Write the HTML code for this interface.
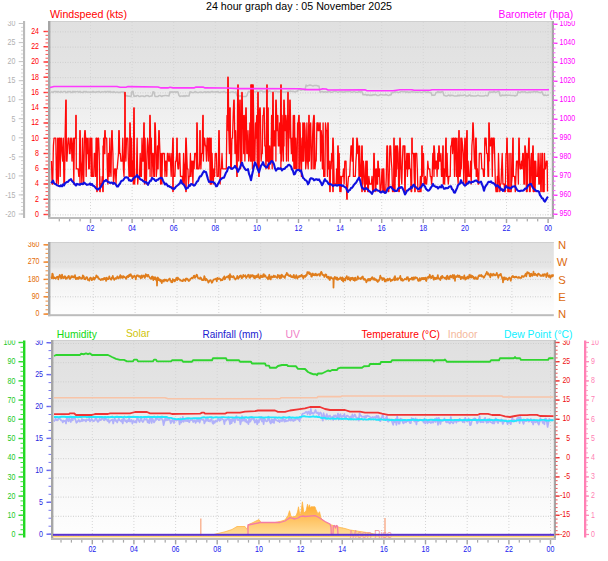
<!DOCTYPE html>
<html><head><meta charset="utf-8"><title>24 hour graph</title>
<style>html,body{margin:0;padding:0;background:#fff}svg{display:block;font-family:"Liberation Sans",sans-serif}</style></head>
<body><svg width="608" height="561" viewBox="0 0 608 561" font-family="&quot;Liberation Sans&quot;, sans-serif">
<defs>
<linearGradient id="gt" x1="0" y1="0" x2="0" y2="1"><stop offset="0" stop-color="#e0e0e0"/><stop offset="0.33" stop-color="#e5e5e5"/><stop offset="0.37" stop-color="#ececec"/><stop offset="0.62" stop-color="#f5f5f5"/><stop offset="0.8" stop-color="#fafafa"/><stop offset="1" stop-color="#fefefe"/></linearGradient>
<linearGradient id="gs" x1="0" y1="0" x2="0" y2="1"><stop offset="0" stop-color="#ffa624"/><stop offset="1" stop-color="#ffdc98"/></linearGradient>
<clipPath id="ct"><rect x="0" y="21" width="608" height="540"/></clipPath>
<clipPath id="cm"><rect x="0" y="242" width="608" height="300"/></clipPath>
<clipPath id="cb"><rect x="0" y="340.5" width="608" height="300"/></clipPath>
</defs>
<rect width="608" height="561" fill="#fff"/>
<rect x="48" y="21" width="506" height="198" fill="url(#gt)"/>
<rect x="48" y="21" width="506" height="1" fill="#cfcfcf"/>
<line x1="50" x2="552" y1="214.9" y2="214.9" stroke="#cecece" stroke-width="1" stroke-dasharray="1,1.5"/>
<line x1="50" x2="552" y1="199.7" y2="199.7" stroke="#cecece" stroke-width="1" stroke-dasharray="1,1.5"/>
<line x1="50" x2="552" y1="184.4" y2="184.4" stroke="#cecece" stroke-width="1" stroke-dasharray="1,1.5"/>
<line x1="50" x2="552" y1="169.2" y2="169.2" stroke="#cecece" stroke-width="1" stroke-dasharray="1,1.5"/>
<line x1="50" x2="552" y1="153.9" y2="153.9" stroke="#cecece" stroke-width="1" stroke-dasharray="1,1.5"/>
<line x1="50" x2="552" y1="138.7" y2="138.7" stroke="#cecece" stroke-width="1" stroke-dasharray="1,1.5"/>
<line x1="50" x2="552" y1="123.4" y2="123.4" stroke="#cecece" stroke-width="1" stroke-dasharray="1,1.5"/>
<line x1="50" x2="552" y1="108.2" y2="108.2" stroke="#cecece" stroke-width="1" stroke-dasharray="1,1.5"/>
<line x1="50" x2="552" y1="92.9" y2="92.9" stroke="#cecece" stroke-width="1" stroke-dasharray="1,1.5"/>
<line x1="50" x2="552" y1="77.7" y2="77.7" stroke="#cecece" stroke-width="1" stroke-dasharray="1,1.5"/>
<line x1="50" x2="552" y1="62.4" y2="62.4" stroke="#cecece" stroke-width="1" stroke-dasharray="1,1.5"/>
<line x1="50" x2="552" y1="47.1" y2="47.1" stroke="#cecece" stroke-width="1" stroke-dasharray="1,1.5"/>
<line x1="50" x2="552" y1="31.9" y2="31.9" stroke="#cecece" stroke-width="1" stroke-dasharray="1,1.5"/>
<line x1="90.5" x2="90.5" y1="22" y2="217" stroke="#d6d6d6" stroke-width="1" stroke-dasharray="1,2"/>
<line x1="132.1" x2="132.1" y1="22" y2="217" stroke="#d6d6d6" stroke-width="1" stroke-dasharray="1,2"/>
<line x1="173.7" x2="173.7" y1="22" y2="217" stroke="#d6d6d6" stroke-width="1" stroke-dasharray="1,2"/>
<line x1="215.3" x2="215.3" y1="22" y2="217" stroke="#d6d6d6" stroke-width="1" stroke-dasharray="1,2"/>
<line x1="256.9" x2="256.9" y1="22" y2="217" stroke="#d6d6d6" stroke-width="1" stroke-dasharray="1,2"/>
<line x1="298.5" x2="298.5" y1="22" y2="217" stroke="#d6d6d6" stroke-width="1" stroke-dasharray="1,2"/>
<line x1="340.1" x2="340.1" y1="22" y2="217" stroke="#d6d6d6" stroke-width="1" stroke-dasharray="1,2"/>
<line x1="381.7" x2="381.7" y1="22" y2="217" stroke="#d6d6d6" stroke-width="1" stroke-dasharray="1,2"/>
<line x1="423.3" x2="423.3" y1="22" y2="217" stroke="#d6d6d6" stroke-width="1" stroke-dasharray="1,2"/>
<line x1="464.9" x2="464.9" y1="22" y2="217" stroke="#d6d6d6" stroke-width="1" stroke-dasharray="1,2"/>
<line x1="506.5" x2="506.5" y1="22" y2="217" stroke="#d6d6d6" stroke-width="1" stroke-dasharray="1,2"/>
<line x1="548.1" x2="548.1" y1="22" y2="217" stroke="#d6d6d6" stroke-width="1" stroke-dasharray="1,2"/>
<rect x="48" y="21" width="2.4" height="198" fill="#a6a6a6"/>
<rect x="551.8" y="21" width="2.2" height="198" fill="#a6a6a6"/>
<rect x="48" y="217.0" width="506" height="2.0" fill="#bcbcbc"/>
<polyline points="51.0,91.9 52.0,91.9 53.0,92.4 54.0,91.6 55.0,91.4 56.0,91.4 57.0,92.3 58.0,91.4 59.0,91.9 60.0,92.3 61.0,91.4 62.0,92.3 63.0,91.9 64.0,91.4 65.0,91.4 66.0,92.4 67.0,92.4 68.0,91.4 69.0,91.9 70.0,91.4 71.0,92.3 72.0,92.4 73.0,91.4 74.0,92.3 75.0,91.4 76.0,91.9 77.0,91.6 78.0,91.6 79.0,92.3 80.0,91.4 81.0,92.3 82.0,92.3 83.0,92.4 84.0,91.4 85.0,91.9 86.0,91.4 87.0,92.3 88.0,91.9 89.0,91.9 90.0,92.4 91.0,91.9 92.0,92.3 93.0,91.4 94.0,92.3 95.0,91.9 96.0,92.3 97.0,91.6 98.0,91.9 99.0,91.4 100.0,92.3 101.0,92.3 102.0,91.6 103.0,91.9 104.0,91.9 105.0,91.4 106.0,92.3 107.0,91.6 108.0,91.4 109.0,92.3 110.0,91.4 111.0,92.3 112.0,91.9 113.0,92.4 114.0,91.6 115.0,92.3 116.0,92.4 117.0,91.9 118.0,92.4 119.0,92.3 120.0,92.4 121.0,91.9 122.0,91.9 123.0,91.9 124.0,91.9 125.0,95.7 126.0,96.0 127.0,95.5 128.0,96.4 129.0,96.0 130.0,96.4 131.0,96.5 132.0,91.5 133.0,91.2 134.0,96.5 135.0,96.0 136.0,96.4 137.0,95.5 138.0,95.5 139.0,96.4 140.0,96.5 141.0,96.0 142.0,96.0 143.0,96.0 144.0,96.5 145.0,96.5 146.0,95.5 147.0,95.7 148.0,95.5 149.0,96.4 150.0,96.4 151.0,96.0 152.0,96.0 153.0,91.7 154.0,92.0 155.0,96.4 156.0,96.5 157.0,96.4 158.0,96.5 159.0,95.5 160.0,95.5 161.0,96.0 162.0,96.5 163.0,95.7 164.0,95.7 165.0,95.5 166.0,95.5 167.0,95.7 168.0,95.7 169.0,96.0 170.0,91.7 171.0,92.4 172.0,91.7 173.0,92.5 174.0,92.0 175.0,91.7 176.0,92.5 177.0,91.7 178.0,92.0 179.0,95.5 180.0,96.5 181.0,96.0 182.0,96.0 183.0,96.4 184.0,95.5 185.0,96.5 186.0,95.5 187.0,96.0 188.0,96.0 189.0,96.0 190.0,91.7 191.0,92.0 192.0,92.5 193.0,92.5 194.0,92.5 195.0,91.5 196.0,92.0 197.0,92.5 198.0,92.5 199.0,92.4 200.0,92.0 201.0,92.0 202.0,92.5 203.0,92.4 204.0,92.0 205.0,91.7 206.0,92.5 207.0,92.0 208.0,91.7 209.0,92.5 210.0,92.0 211.0,92.0 212.0,91.5 213.0,92.0 214.0,92.0 215.0,92.0 216.0,91.7 217.0,92.0 218.0,91.5 219.0,92.5 220.0,92.4 221.0,92.0 222.0,92.0 223.0,92.0 224.0,91.5 225.0,92.0 226.0,92.5 227.0,92.4 228.0,92.0 229.0,92.4 230.0,92.4 231.0,92.0 232.0,92.0 233.0,91.7 234.0,92.4 235.0,92.4 236.0,91.7 237.0,95.7 238.0,95.7 239.0,95.5 240.0,96.5 241.0,95.7 242.0,96.4 243.0,96.5 244.0,96.5 245.0,96.5 246.0,96.5 247.0,95.5 248.0,92.1 249.0,91.3 250.0,92.1 251.0,91.1 252.0,91.6 253.0,91.1 254.0,91.6 255.0,92.1 256.0,91.6 257.0,91.1 258.0,91.6 259.0,92.0 260.0,91.1 261.0,91.1 262.0,91.1 263.0,92.0 264.0,91.6 265.0,92.0 266.0,91.1 267.0,91.6 268.0,92.0 269.0,91.1 270.0,91.1 271.0,91.6 272.0,92.0 273.0,92.1 274.0,91.6 275.0,91.3 276.0,91.6 277.0,91.6 278.0,92.0 279.0,91.6 280.0,92.1 281.0,91.1 282.0,91.1 283.0,92.1 284.0,92.1 285.0,92.1 286.0,92.1 287.0,91.6 288.0,91.1 289.0,91.6 290.0,91.1 291.0,91.3 292.0,91.6 293.0,91.3 294.0,91.6 295.0,92.1 296.0,91.3 297.0,91.6 298.0,90.2 299.0,89.3 300.0,89.8 301.0,90.2 302.0,89.8 303.0,89.8 304.0,89.5 305.0,90.2 306.0,85.1 307.0,86.0 308.0,85.6 309.0,85.3 310.0,85.1 311.0,85.3 312.0,85.6 313.0,86.0 314.0,85.6 315.0,85.6 316.0,85.6 317.0,85.6 318.0,86.0 319.0,86.0 320.0,92.2 321.0,91.8 322.0,91.5 323.0,91.8 324.0,92.2 325.0,91.8 326.0,91.8 327.0,92.3 328.0,91.5 329.0,91.8 330.0,91.8 331.0,92.2 332.0,92.3 333.0,91.8 334.0,91.5 335.0,91.3 336.0,91.3 337.0,91.8 338.0,92.3 339.0,91.8 340.0,91.8 341.0,91.5 342.0,92.2 343.0,91.8 344.0,92.3 345.0,91.5 346.0,91.8 347.0,91.8 348.0,91.3 349.0,91.8 350.0,91.3 351.0,91.8 352.0,92.3 353.0,91.8 354.0,91.8 355.0,91.8 356.0,92.3 357.0,92.2 358.0,92.2 359.0,91.3 360.0,92.3 361.0,91.5 362.0,91.8 363.0,94.7 364.0,94.5 365.0,94.7 366.0,94.5 367.0,95.5 368.0,94.7 369.0,95.0 370.0,95.5 371.0,95.0 372.0,95.5 373.0,94.7 374.0,95.0 375.0,94.5 376.0,94.7 377.0,95.5 378.0,95.5 379.0,95.5 380.0,94.7 381.0,94.5 382.0,94.7 383.0,95.0 384.0,95.0 385.0,95.0 386.0,94.5 387.0,95.0 388.0,95.4 389.0,95.5 390.0,94.7 391.0,95.0 392.0,92.4 393.0,92.4 394.0,92.5 395.0,91.7 396.0,92.0 397.0,92.0 398.0,92.4 399.0,92.4 400.0,92.0 401.0,91.5 402.0,91.5 403.0,91.7 404.0,91.7 405.0,91.5 406.0,92.4 407.0,91.7 408.0,92.0 409.0,92.5 410.0,92.0 411.0,92.0 412.0,91.5 413.0,92.0 414.0,92.0 415.0,92.0 416.0,92.4 417.0,92.0 418.0,92.4 419.0,92.0 420.0,92.0 421.0,92.4 422.0,92.5 423.0,92.0 424.0,91.5 425.0,91.7 426.0,92.0 427.0,92.5 428.0,91.7 429.0,92.4 430.0,92.4 431.0,92.5 432.0,95.4 433.0,95.0 434.0,95.4 435.0,95.0 436.0,92.4 437.0,92.4 438.0,91.5 439.0,92.5 440.0,92.0 441.0,92.4 442.0,91.5 443.0,92.0 444.0,95.6 445.0,95.6 446.0,96.1 447.0,96.0 448.0,95.3 449.0,95.1 450.0,96.0 451.0,95.1 452.0,95.6 453.0,95.3 454.0,96.0 455.0,96.0 456.0,96.0 457.0,96.1 458.0,95.1 459.0,96.0 460.0,95.1 461.0,95.6 462.0,95.6 463.0,95.6 464.0,95.1 465.0,95.1 466.0,96.0 467.0,96.1 468.0,96.0 469.0,95.1 470.0,95.1 471.0,96.1 472.0,95.6 473.0,96.0 474.0,96.0 475.0,96.0 476.0,96.0 477.0,95.6 478.0,95.3 479.0,95.6 480.0,96.1 481.0,96.0 482.0,96.0 483.0,96.1 484.0,96.0 485.0,95.6 486.0,95.3 487.0,96.0 488.0,95.6 489.0,92.2 490.0,91.8 491.0,92.3 492.0,91.8 493.0,92.3 494.0,91.3 495.0,92.3 496.0,92.3 497.0,91.8 498.0,91.3 499.0,91.5 500.0,95.5 501.0,96.0 502.0,95.0 503.0,95.5 504.0,95.2 505.0,95.5 506.0,95.0 507.0,95.5 508.0,95.2 509.0,95.2 510.0,95.2 511.0,95.5 512.0,95.5 513.0,95.5 514.0,95.5 515.0,96.0 516.0,95.5 517.0,95.2 518.0,91.5 519.0,92.5 520.0,92.5 521.0,92.0 522.0,91.7 523.0,92.0 524.0,92.0 525.0,91.7 526.0,92.5 527.0,92.4 528.0,92.5 529.0,92.0 530.0,92.5 531.0,92.0 532.0,92.0 533.0,92.0 534.0,91.5 535.0,91.7 536.0,92.0 537.0,91.5 538.0,92.0 539.0,92.4 540.0,92.5 541.0,92.5 542.0,91.7 543.0,94.5 544.0,95.5 545.0,95.0 546.0,95.4 547.0,95.4 548.0,95.0 549.0,95.4" fill="none" stroke="#c2c2c2" stroke-width="1.5" stroke-linejoin="round" />
<polyline points="51.5,161.1 52.1,184.0 52.7,184.0 53.4,145.9 54.0,138.2 54.6,138.2 55.2,138.2 55.8,138.2 56.5,184.0 57.1,176.4 57.7,138.2 58.3,184.0 58.9,138.2 59.6,138.2 60.2,176.4 60.8,138.2 61.4,138.2 62.0,153.5 62.7,161.1 63.3,138.2 63.9,184.0 64.5,184.0 65.1,138.2 65.8,100.1 65.8,138.2 66.2,100.1 66.4,161.1 67.0,161.1 67.6,145.9 68.2,138.2 68.9,138.2 69.5,153.5 70.1,153.5 70.7,138.2 71.3,138.2 72.0,161.1 72.6,145.9 73.2,138.2 73.8,184.0 74.4,138.2 75.1,138.2 75.7,138.2 75.8,115.4 76.2,115.4 76.3,168.8 76.9,168.8 77.5,168.8 78.2,168.8 78.8,176.4 79.4,176.4 79.8,130.6 80.0,184.0 80.2,130.6 80.6,161.1 81.3,168.8 81.9,184.0 82.5,138.2 83.1,168.8 83.7,184.0 84.4,138.2 84.8,130.6 85.0,138.2 85.2,130.6 85.6,138.2 86.2,176.4 86.8,138.2 87.5,153.5 88.1,138.2 88.7,168.8 89.3,168.8 89.9,138.2 90.6,138.2 91.2,176.4 91.8,138.2 92.4,176.4 93.0,176.4 93.7,176.4 94.3,153.5 94.9,153.5 95.5,176.4 96.1,138.2 96.8,138.2 96.8,191.6 97.2,191.6 97.4,161.1 98.0,138.2 98.6,138.2 99.2,153.5 99.8,191.6 99.9,176.4 100.2,191.6 100.5,184.0 101.1,184.0 101.7,184.0 102.3,176.4 102.8,191.6 103.0,145.9 103.2,191.6 103.6,138.2 104.2,153.5 104.8,130.6 104.8,153.5 105.2,130.6 105.4,138.2 106.1,138.2 106.7,138.2 107.3,168.8 107.9,184.0 108.5,153.5 109.2,176.4 109.8,138.2 110.4,168.8 111.0,176.4 111.6,138.2 111.8,130.6 112.2,130.6 112.3,138.2 112.9,153.5 113.5,184.0 114.1,176.4 114.7,168.8 115.4,168.8 116.0,184.0 116.6,168.8 117.2,168.8 117.8,161.1 118.5,153.5 118.8,130.6 119.1,145.9 119.2,130.6 119.7,153.5 120.3,153.5 120.9,161.1 121.6,161.1 122.2,161.1 122.8,138.2 123.4,168.8 124.0,176.4 124.7,145.9 124.8,92.5 125.2,92.5 125.3,145.9 125.9,161.1 126.5,138.2 127.1,138.2 127.8,138.2 128.4,161.1 129.0,176.4 129.6,176.4 129.8,123.0 130.2,138.2 130.2,123.0 130.9,176.4 131.5,138.2 132.1,176.4 132.7,161.1 133.3,184.0 133.8,107.8 134.0,138.2 134.2,107.8 134.6,184.0 135.2,176.4 135.8,176.4 136.4,176.4 137.1,138.2 137.7,184.0 138.3,176.4 138.9,176.4 139.5,176.4 140.2,153.5 140.8,176.4 141.4,176.4 142.0,138.2 142.6,161.1 143.3,161.1 143.8,123.0 143.9,153.5 144.2,123.0 144.5,184.0 145.1,138.2 145.7,176.4 146.4,184.0 147.0,153.5 147.6,138.2 148.2,145.9 148.8,168.8 149.5,153.5 149.8,115.4 150.1,176.4 150.2,115.4 150.7,153.5 151.3,138.2 151.9,176.4 152.6,153.5 153.2,153.5 153.8,176.4 154.4,176.4 154.8,123.0 155.0,153.5 155.2,123.0 155.7,138.2 156.3,176.4 156.9,168.8 157.5,145.9 158.1,168.8 158.8,130.6 158.8,138.2 159.2,130.6 159.4,138.2 160.0,153.5 160.6,184.0 161.2,153.5 161.9,184.0 162.5,153.5 163.1,153.5 163.7,153.5 164.3,153.5 165.0,176.4 165.6,161.1 166.2,161.1 166.8,176.4 167.4,153.5 168.1,153.5 168.7,161.1 169.3,161.1 169.9,153.5 170.5,161.1 171.2,176.4 171.8,153.5 172.4,153.5 172.8,138.2 172.8,191.6 173.0,153.5 173.2,191.6 173.2,138.2 173.6,176.4 174.3,176.4 174.9,176.4 175.5,161.1 176.1,161.1 176.7,153.5 176.8,138.2 177.2,138.2 177.4,161.1 178.0,168.8 178.6,168.8 179.2,153.5 179.8,153.5 180.5,176.4 181.1,176.4 181.7,176.4 182.3,176.4 182.9,184.0 183.6,153.5 184.2,184.0 184.8,168.8 185.4,161.1 185.8,138.2 185.8,191.6 186.0,176.4 186.2,191.6 186.2,138.2 186.7,153.5 187.3,168.8 187.9,168.8 188.5,184.0 189.1,176.4 189.8,176.4 190.4,153.5 191.0,176.4 191.6,161.1 192.2,161.1 192.9,184.0 193.5,161.1 194.1,168.8 194.7,153.5 195.3,153.5 196.0,153.5 196.6,168.8 196.8,123.0 197.2,168.8 197.2,123.0 197.8,168.8 198.4,168.8 199.1,168.8 199.7,161.1 199.8,130.6 200.2,130.6 200.3,153.5 200.9,168.8 201.5,153.5 202.2,153.5 202.8,115.4 202.8,145.9 203.2,115.4 203.4,161.1 204.0,138.2 204.6,138.2 205.3,145.9 205.9,145.9 206.5,161.1 207.1,138.2 207.7,138.2 208.4,161.1 209.0,138.2 209.6,138.2 210.2,184.0 210.8,138.2 210.8,184.0 211.2,138.2 211.5,184.0 212.1,153.5 212.7,176.4 213.3,184.0 213.9,168.8 214.6,176.4 215.2,153.5 215.8,153.5 216.4,153.5 217.0,176.4 217.7,176.4 218.3,176.4 218.8,130.6 218.9,153.5 219.2,130.6 219.5,153.5 220.1,184.0 220.8,168.8 221.4,168.8 222.0,153.5 222.6,168.8 223.2,168.8 223.9,168.8 224.5,168.8 225.1,168.8 225.7,168.8 226.3,168.8 227.0,115.4 227.6,115.4 227.8,77.2 228.2,130.6 228.2,77.2 228.8,130.6 229.4,153.5 229.8,107.8 230.1,145.9 230.2,107.8 230.7,168.8 231.3,168.8 231.9,138.2 232.5,138.2 233.2,115.4 233.8,100.1 233.8,115.4 234.2,100.1 234.4,115.4 235.0,153.5 235.6,130.6 236.3,153.5 236.8,176.4 236.9,161.1 237.2,176.4 237.5,115.4 237.8,84.9 238.1,153.5 238.2,84.9 238.7,161.1 239.4,123.0 239.8,100.1 240.0,115.4 240.2,100.1 240.6,168.8 241.2,153.5 241.8,92.5 241.8,161.1 242.2,92.5 242.5,115.4 243.1,115.4 243.7,153.5 244.3,115.4 244.9,161.1 245.6,123.0 245.8,107.8 246.2,123.0 246.2,107.8 246.8,153.5 247.4,153.5 248.0,130.6 248.7,161.1 249.3,153.5 249.9,123.0 250.5,161.1 250.8,84.9 251.1,161.1 251.2,84.9 251.8,84.9 251.8,161.1 252.2,84.9 252.4,168.8 252.8,84.9 253.0,161.1 253.2,84.9 253.6,115.4 254.2,161.1 254.9,161.1 255.5,123.0 256.1,138.2 256.7,115.4 257.3,168.8 257.8,92.5 258.0,123.0 258.2,92.5 258.6,168.8 258.8,176.4 259.2,176.4 259.2,115.4 259.8,107.8 259.8,115.4 260.2,107.8 260.4,115.4 261.1,161.1 261.7,153.5 262.3,153.5 262.9,115.4 263.5,115.4 263.8,107.8 264.2,115.4 264.2,107.8 264.8,145.9 265.4,145.9 266.0,168.8 266.6,115.4 266.8,84.9 267.2,84.9 267.3,161.1 267.8,107.8 267.9,161.1 268.2,107.8 268.5,168.8 269.1,168.8 269.7,145.9 270.4,161.1 271.0,161.1 271.6,115.4 272.2,168.8 272.8,92.5 272.8,161.1 273.2,92.5 273.5,145.9 274.1,130.6 274.7,145.9 275.3,145.9 275.8,100.1 275.9,161.1 276.2,100.1 276.6,115.4 277.2,130.6 277.8,115.4 278.4,145.9 279.0,145.9 279.7,123.0 280.3,153.5 280.8,84.9 280.9,168.8 281.2,84.9 281.5,161.1 282.1,115.4 282.8,145.9 283.4,161.1 283.8,100.1 284.0,145.9 284.2,100.1 284.6,115.4 285.2,130.6 285.9,115.4 286.5,161.1 287.1,123.0 287.7,115.4 287.8,92.5 288.2,92.5 288.3,161.1 289.0,115.4 289.6,115.4 289.8,100.1 290.2,138.2 290.2,100.1 290.8,138.2 291.4,153.5 292.1,138.2 292.7,161.1 293.3,115.4 293.9,168.8 294.5,115.4 295.2,168.8 295.8,138.2 296.4,168.8 297.0,168.8 297.6,123.0 298.3,123.0 298.8,115.4 298.9,168.8 299.2,115.4 299.5,168.8 300.1,123.0 300.7,153.5 301.4,176.4 302.0,138.2 302.6,161.1 302.8,123.0 303.2,161.1 303.2,123.0 303.8,161.1 304.5,123.0 305.1,130.6 305.7,168.8 306.3,161.1 306.9,123.0 307.6,161.1 308.2,168.8 308.8,115.4 308.8,161.1 309.2,115.4 309.4,161.1 310.0,130.6 310.7,123.0 311.3,168.8 311.9,168.8 312.5,138.2 313.1,123.0 313.8,115.4 313.8,168.8 314.2,115.4 314.4,123.0 315.0,168.8 315.6,161.1 316.2,161.1 316.9,123.0 317.5,123.0 317.8,123.0 318.1,130.6 318.2,123.0 318.7,130.6 319.3,130.6 319.8,123.0 320.0,123.0 320.2,123.0 320.6,161.1 321.2,130.6 321.8,138.2 322.4,168.8 323.1,123.0 323.7,176.4 324.3,176.4 324.9,176.4 325.5,123.0 326.2,130.6 326.8,130.6 327.4,176.4 327.8,123.0 328.0,168.8 328.2,123.0 328.6,168.8 329.3,168.8 329.8,191.6 329.9,161.1 330.2,191.6 330.5,168.8 331.1,168.8 331.7,153.5 332.4,161.1 332.8,138.2 332.8,191.6 333.0,153.5 333.2,191.6 333.2,138.2 333.6,153.5 334.2,184.0 334.8,184.0 335.5,184.0 336.1,184.0 336.7,168.8 337.3,184.0 337.8,145.9 337.9,153.5 338.2,145.9 338.6,184.0 339.2,153.5 339.8,191.6 340.4,176.4 341.0,191.6 341.7,176.4 342.3,176.4 342.9,176.4 343.5,168.8 344.1,184.0 344.8,161.1 345.4,161.1 346.0,161.1 346.6,191.6 346.8,199.2 347.2,199.2 347.2,191.6 347.9,184.0 348.5,176.4 349.1,176.4 349.7,176.4 350.3,161.1 351.0,145.9 351.6,145.9 352.2,161.1 352.8,138.2 352.8,145.9 353.2,138.2 353.4,176.4 354.1,176.4 354.7,176.4 355.3,176.4 355.9,161.1 356.5,153.5 356.8,138.2 357.2,153.5 357.2,138.2 357.8,145.9 358.4,145.9 359.0,176.4 359.6,145.9 360.3,176.4 360.9,176.4 361.5,161.1 361.8,145.9 361.8,191.6 362.1,161.1 362.2,191.6 362.2,145.9 362.7,184.0 363.4,161.1 364.0,168.8 364.6,191.6 365.2,191.6 365.8,161.1 366.5,184.0 366.8,161.1 367.1,176.4 367.2,161.1 367.7,191.6 368.3,191.6 368.9,176.4 369.6,184.0 370.2,184.0 370.8,184.0 371.4,184.0 372.0,176.4 372.7,191.6 373.3,191.6 373.8,153.5 373.9,191.6 374.2,153.5 374.5,168.8 375.1,168.8 375.8,191.6 376.4,168.8 377.0,184.0 377.6,184.0 377.8,161.1 378.2,168.8 378.2,161.1 378.9,176.4 379.5,168.8 380.1,191.6 380.7,191.6 381.3,184.0 382.0,168.8 382.6,176.4 382.8,191.6 383.2,191.6 383.2,168.8 383.8,168.8 384.4,191.6 385.1,191.6 385.7,191.6 386.3,176.4 386.9,145.9 387.5,145.9 388.2,191.6 388.8,191.6 389.4,168.8 389.8,145.9 390.0,145.9 390.2,145.9 390.6,145.9 391.3,161.1 391.9,168.8 392.5,191.6 393.1,191.6 393.7,184.0 393.8,138.2 394.2,138.2 394.4,191.6 395.0,191.6 395.6,145.9 396.2,176.4 396.8,145.9 396.8,168.8 397.2,145.9 397.5,145.9 398.1,153.5 398.7,191.6 399.3,191.6 399.8,138.2 399.9,168.8 400.2,138.2 400.6,153.5 401.2,176.4 401.8,184.0 402.4,161.1 403.0,145.9 403.7,145.9 404.3,145.9 404.8,191.6 404.9,145.9 405.2,191.6 405.5,161.1 406.1,168.8 406.8,153.5 407.4,176.4 408.0,153.5 408.6,168.8 409.2,153.5 409.9,168.8 410.5,168.8 411.1,191.6 411.7,191.6 411.8,138.2 412.2,138.2 412.3,153.5 413.0,153.5 413.6,153.5 414.2,176.4 414.8,191.6 414.8,153.5 415.2,191.6 415.4,153.5 416.1,153.5 416.7,153.5 417.3,168.8 417.9,191.6 418.5,191.6 419.2,191.6 419.8,191.6 420.4,176.4 421.0,191.6 421.6,176.4 421.8,145.9 422.2,145.9 422.3,176.4 422.9,168.8 423.5,153.5 424.1,184.0 424.7,184.0 425.4,176.4 426.0,184.0 426.6,184.0 427.2,176.4 427.8,161.1 428.5,168.8 429.1,168.8 429.7,168.8 430.3,176.4 430.9,176.4 431.6,184.0 432.2,176.4 432.8,153.5 433.4,168.8 433.8,145.9 434.0,176.4 434.2,145.9 434.7,153.5 435.3,168.8 435.9,161.1 436.5,161.1 437.1,176.4 437.8,153.5 438.4,168.8 438.8,145.9 439.0,153.5 439.2,145.9 439.6,161.1 440.2,161.1 440.9,153.5 441.5,176.4 442.1,176.4 442.7,153.5 442.8,145.9 443.2,145.9 443.3,184.0 444.0,168.8 444.6,184.0 445.2,168.8 445.8,138.2 445.8,153.5 446.2,138.2 446.4,176.4 447.1,153.5 447.7,176.4 448.3,184.0 448.9,176.4 449.5,176.4 450.2,176.4 450.8,145.9 451.4,145.9 452.0,138.2 452.6,153.5 453.3,138.2 453.9,138.2 454.5,176.4 455.1,138.2 455.7,138.2 456.4,176.4 457.0,138.2 457.6,176.4 458.2,184.0 458.8,130.6 458.8,168.8 459.2,130.6 459.5,176.4 460.1,176.4 460.7,168.8 460.8,138.2 461.2,138.2 461.3,168.8 461.9,138.2 462.6,145.9 463.2,153.5 463.8,184.0 464.4,161.1 464.8,138.2 465.0,161.1 465.2,138.2 465.7,184.0 466.3,153.5 466.8,130.6 466.9,184.0 467.2,130.6 467.5,176.4 468.1,161.1 468.8,176.4 469.4,176.4 470.0,176.4 470.6,161.1 471.2,184.0 471.9,145.9 472.5,138.2 472.8,123.0 473.1,138.2 473.2,123.0 473.7,138.2 474.3,161.1 475.0,168.8 475.6,138.2 475.8,138.2 476.2,176.4 476.2,138.2 476.8,176.4 477.4,168.8 478.1,184.0 478.7,184.0 479.3,153.5 479.9,153.5 480.5,153.5 481.2,153.5 481.8,168.8 482.4,168.8 483.0,168.8 483.6,176.4 484.3,176.4 484.8,138.2 484.9,145.9 485.2,138.2 485.5,138.2 486.1,138.2 486.7,153.5 487.4,153.5 488.0,176.4 488.6,176.4 488.8,123.0 489.2,161.1 489.2,123.0 489.8,145.9 490.5,145.9 491.1,138.2 491.7,138.2 492.3,176.4 492.8,138.2 492.9,153.5 493.2,138.2 493.6,138.2 494.2,138.2 494.8,161.1 495.4,184.0 496.0,191.6 496.7,191.6 497.3,176.4 497.9,191.6 498.5,153.5 499.1,176.4 499.8,191.6 500.4,184.0 501.0,184.0 501.6,168.8 502.2,153.5 502.9,184.0 503.5,184.0 504.1,184.0 504.7,191.6 505.3,191.6 506.0,153.5 506.6,153.5 506.8,138.2 507.2,153.5 507.2,138.2 507.8,191.6 508.4,184.0 508.8,191.6 509.1,153.5 509.2,191.6 509.7,191.6 510.3,191.6 510.8,191.6 510.9,153.5 511.2,191.6 511.5,184.0 512.2,176.4 512.8,138.2 512.8,176.4 513.2,138.2 513.4,176.4 514.0,176.4 514.6,176.4 515.3,191.6 515.9,176.4 516.5,161.1 517.1,161.1 517.7,161.1 518.4,184.0 518.8,138.2 519.0,153.5 519.2,138.2 519.6,161.1 520.2,168.8 520.8,168.8 521.5,161.1 522.1,168.8 522.7,153.5 523.3,153.5 523.9,184.0 524.6,184.0 524.8,145.9 525.2,153.5 525.2,145.9 525.8,153.5 526.4,191.6 526.8,191.6 527.0,153.5 527.2,191.6 527.7,161.1 528.3,153.5 528.8,138.2 528.9,153.5 529.2,138.2 529.5,191.6 529.8,191.6 530.1,184.0 530.2,191.6 530.8,161.1 531.4,153.5 532.0,184.0 532.6,153.5 532.8,145.9 533.2,191.6 533.2,145.9 533.9,191.6 534.5,161.1 535.1,191.6 535.7,161.1 536.3,176.4 537.0,176.4 537.6,176.4 538.2,153.5 538.8,184.0 539.4,184.0 540.1,153.5 540.7,184.0 540.8,191.6 541.2,191.6 541.3,184.0 541.9,153.5 542.5,153.5 542.8,191.6 543.2,168.8 543.2,191.6 543.8,168.8 543.8,191.6 544.2,191.6 544.4,153.5 545.0,168.8 545.6,168.8 546.3,161.1 546.8,161.1 546.9,161.1 547.2,161.1 547.5,191.6" fill="none" stroke="#ff0808" stroke-width="1.3" stroke-linejoin="round" stroke-linejoin="miter"/>
<polyline points="51.0,183.0 52.0,182.2 53.0,180.7 54.0,183.2 55.0,184.0 56.0,184.4 57.0,185.2 58.0,185.6 59.0,186.0 60.0,186.4 61.0,185.3 62.0,186.3 63.0,184.4 64.0,185.4 65.0,183.2 66.0,182.6 67.0,182.0 68.0,181.8 69.0,180.4 70.0,179.8 71.0,179.2 72.0,181.0 73.0,182.0 74.0,183.1 75.0,184.6 76.0,185.6 77.0,183.8 78.0,184.4 79.0,184.2 80.0,184.8 81.0,183.8 82.0,183.9 83.0,184.1 84.0,182.6 85.0,183.4 86.0,184.2 87.0,184.9 88.0,184.5 89.0,184.4 90.0,183.4 91.0,184.9 92.0,184.0 93.0,185.8 94.0,186.0 95.0,187.0 96.0,188.4 97.0,189.0 98.0,189.6 99.0,188.6 100.0,188.0 101.0,186.6 102.0,184.9 103.0,183.2 104.0,181.1 105.0,181.0 106.0,179.9 107.0,181.0 108.0,182.0 109.0,182.2 110.0,182.9 111.0,182.8 112.0,182.6 113.0,183.7 114.0,182.9 115.0,183.6 116.0,184.8 117.0,186.5 118.0,186.5 119.0,184.7 120.0,183.6 121.0,181.4 122.0,180.7 123.0,180.5 124.0,179.0 125.0,177.5 126.0,177.3 127.0,177.4 128.0,177.7 129.0,180.4 130.0,180.1 131.0,181.0 132.0,180.4 133.0,179.0 134.0,178.0 135.0,177.0 136.0,176.8 137.0,175.0 138.0,177.1 139.0,176.9 140.0,179.0 141.0,179.7 142.0,179.9 143.0,181.0 144.0,181.6 145.0,182.6 146.0,182.0 147.0,183.0 148.0,184.8 149.0,182.7 150.0,180.9 151.0,180.8 152.0,177.8 153.0,178.8 154.0,179.0 155.0,180.4 156.0,181.0 157.0,179.8 158.0,179.8 159.0,178.6 160.0,178.2 161.0,177.8 162.0,178.2 163.0,180.6 164.0,182.6 165.0,184.5 166.0,183.5 167.0,184.6 168.0,186.3 169.0,186.0 170.0,186.9 171.0,187.1 172.0,188.4 173.0,188.2 174.0,189.1 175.0,188.1 176.0,186.5 177.0,185.8 178.0,185.0 179.0,184.1 180.0,183.1 181.0,180.2 182.0,183.3 183.0,184.0 184.0,184.9 185.0,186.9 186.0,189.0 187.0,188.0 188.0,187.8 189.0,185.2 190.0,185.8 191.0,184.0 192.0,184.2 193.0,184.9 194.0,185.6 195.0,185.0 196.0,183.3 197.0,181.5 198.0,181.0 199.0,178.2 200.0,176.2 201.0,176.3 202.0,174.4 203.0,172.5 204.0,171.0 205.0,171.9 206.0,172.0 207.0,175.6 208.0,179.1 209.0,181.9 210.0,181.5 211.0,182.0 212.0,181.9 213.0,181.8 214.0,182.7 215.0,183.6 216.0,186.1 217.0,186.1 218.0,183.8 219.0,182.3 220.0,180.0 221.0,179.1 222.0,178.2 223.0,177.7 224.0,177.6 225.0,175.1 226.0,172.6 227.0,171.4 228.0,168.2 229.0,167.0 230.0,167.7 231.0,168.3 232.0,169.0 233.0,168.2 234.0,167.5 235.0,165.9 236.0,167.7 237.0,168.8 238.0,171.8 239.0,169.4 240.0,167.4 241.0,165.0 242.0,162.6 243.0,165.8 244.0,167.4 245.0,169.0 246.0,170.1 247.0,169.7 248.0,169.2 249.0,173.9 250.0,176.3 251.0,180.2 252.0,175.1 253.0,170.8 254.0,166.0 255.0,162.4 256.0,164.5 257.0,167.0 258.0,169.9 259.0,172.4 260.0,169.0 261.0,165.6 262.0,164.5 263.0,162.2 264.0,165.1 265.0,166.3 266.0,167.2 267.0,167.5 268.0,165.3 269.0,163.6 270.0,163.8 271.0,161.6 272.0,161.0 273.0,162.2 274.0,164.2 275.0,168.4 276.0,170.6 277.0,169.2 278.0,168.2 279.0,168.9 280.0,168.4 281.0,168.6 282.0,170.4 283.0,169.1 284.0,169.0 285.0,168.4 286.0,167.0 287.0,166.8 288.0,165.1 289.0,164.7 290.0,165.4 291.0,166.4 292.0,169.4 293.0,170.9 294.0,174.5 295.0,173.8 296.0,171.1 297.0,170.0 298.0,170.1 299.0,169.8 300.0,171.1 301.0,170.4 302.0,174.1 303.0,177.8 304.0,178.5 305.0,180.0 306.0,180.4 307.0,181.5 308.0,184.3 309.0,182.6 310.0,179.2 311.0,178.1 312.0,178.6 313.0,178.7 314.0,180.3 315.0,179.8 316.0,179.2 317.0,179.4 318.0,180.0 319.0,179.4 320.0,181.1 321.0,182.7 322.0,185.2 323.0,183.7 324.0,181.1 325.0,179.2 326.0,181.0 327.0,181.2 328.0,183.0 329.0,184.3 330.0,184.0 331.0,184.3 332.0,184.9 333.0,186.0 334.0,185.3 335.0,185.3 336.0,185.0 337.0,185.8 338.0,185.0 339.0,185.1 340.0,185.3 341.0,185.0 342.0,186.0 343.0,185.3 344.0,186.5 345.0,187.2 346.0,187.6 347.0,190.0 348.0,192.0 349.0,190.2 350.0,189.9 351.0,188.1 352.0,187.8 353.0,186.4 354.0,184.8 355.0,183.6 356.0,182.8 357.0,180.9 358.0,179.4 359.0,177.5 360.0,180.1 361.0,184.6 362.0,187.7 363.0,188.2 364.0,189.5 365.0,188.8 366.0,188.1 367.0,189.0 368.0,189.6 369.0,191.0 370.0,191.6 371.0,192.5 372.0,193.8 373.0,191.4 374.0,190.7 375.0,190.3 376.0,189.2 377.0,190.0 378.0,190.8 379.0,190.7 380.0,191.9 381.0,192.5 382.0,191.8 383.0,191.2 384.0,192.1 385.0,193.0 386.0,192.5 387.0,190.3 388.0,188.2 389.0,188.0 390.0,187.0 391.0,186.8 392.0,188.1 393.0,189.5 394.0,190.0 395.0,190.9 396.0,191.0 397.0,190.9 398.0,188.9 399.0,187.6 400.0,188.0 401.0,187.1 402.0,187.3 403.0,189.2 404.0,191.6 405.0,194.4 406.0,192.9 407.0,190.6 408.0,190.4 409.0,189.0 410.0,189.1 411.0,186.9 412.0,187.8 413.0,185.4 414.0,184.7 415.0,186.8 416.0,187.2 417.0,188.2 418.0,189.2 419.0,189.0 420.0,187.6 421.0,187.4 422.0,185.8 423.0,183.9 424.0,185.4 425.0,186.5 426.0,188.8 427.0,189.9 428.0,190.6 429.0,190.5 430.0,189.1 431.0,187.4 432.0,186.2 433.0,183.9 434.0,185.9 435.0,186.2 436.0,187.0 437.0,186.9 438.0,188.5 439.0,187.3 440.0,186.6 441.0,187.3 442.0,185.2 443.0,187.0 444.0,188.8 445.0,188.6 446.0,187.9 447.0,188.3 448.0,188.0 449.0,186.8 450.0,186.4 451.0,186.4 452.0,189.1 453.0,189.8 454.0,192.5 455.0,192.7 456.0,190.2 457.0,188.1 458.0,185.2 459.0,184.3 460.0,183.5 461.0,180.2 462.0,182.8 463.0,183.0 464.0,184.8 465.0,185.7 466.0,185.0 467.0,183.6 468.0,183.4 469.0,181.5 470.0,182.4 471.0,182.6 472.0,181.9 473.0,182.0 474.0,181.3 475.0,180.7 476.0,180.4 477.0,181.0 478.0,182.0 479.0,182.6 480.0,182.2 481.0,181.5 482.0,184.3 483.0,186.8 484.0,190.8 485.0,187.2 486.0,185.6 487.0,184.4 488.0,182.4 489.0,181.7 490.0,182.1 491.0,181.4 492.0,182.8 493.0,183.0 494.0,183.6 495.0,184.6 496.0,186.3 497.0,185.2 498.0,185.7 499.0,187.4 500.0,187.2 501.0,189.8 502.0,189.2 503.0,191.0 504.0,190.1 505.0,188.1 506.0,186.0 507.0,187.3 508.0,187.8 509.0,187.5 510.0,188.4 511.0,188.3 512.0,187.0 513.0,186.5 514.0,186.4 515.0,186.2 516.0,188.0 517.0,189.8 518.0,190.8 519.0,191.0 520.0,191.2 521.0,190.6 522.0,190.8 523.0,190.6 524.0,190.0 525.0,188.6 526.0,188.8 527.0,187.8 528.0,185.8 529.0,184.7 530.0,184.3 531.0,183.9 532.0,186.0 533.0,187.9 534.0,189.0 535.0,189.9 536.0,190.8 537.0,191.3 538.0,191.0 539.0,191.9 540.0,195.1 541.0,196.4 542.0,198.3 543.0,198.6 544.0,200.7 545.0,201.6 546.0,199.7 547.0,197.9 548.0,196.8" fill="none" stroke="#1010e0" stroke-width="2.1" stroke-linejoin="round" />
<polyline points="50.0,87.6 54.0,86.5 117.0,86.5 120.0,87.2 126.0,87.2 128.0,86.6 158.0,87.0 161.0,87.9 168.0,87.9 170.0,87.3 173.0,87.9 194.0,87.9 196.0,87.1 203.0,87.1 205.0,87.9 226.0,88.0 240.0,88.6 300.0,88.8 307.0,89.6 320.0,89.6 322.0,88.9 326.0,89.0 328.0,90.0 365.0,89.8 367.0,90.7 393.0,90.7 400.0,89.8 412.0,89.8 414.0,90.3 430.0,90.2 432.0,89.7 549.0,89.7" fill="none" stroke="#ff38ff" stroke-width="1.6" stroke-linejoin="round" />
<g clip-path="url(#ct)">
<rect x="23" y="21" width="2.1" height="197" fill="#bababa"/>
<rect x="18.7" y="213.5" width="4.5" height="1" fill="#c4c4c4"/>
<text transform="translate(15.3,216.7) scale(0.86,1)" font-size="8.2" fill="#b0b0b0" text-anchor="end">-20</text>
<rect x="18.7" y="194.4" width="4.5" height="1" fill="#c4c4c4"/>
<text transform="translate(15.3,197.6) scale(0.86,1)" font-size="8.2" fill="#b0b0b0" text-anchor="end">-15</text>
<rect x="18.7" y="175.4" width="4.5" height="1" fill="#c4c4c4"/>
<text transform="translate(15.3,178.6) scale(0.86,1)" font-size="8.2" fill="#b0b0b0" text-anchor="end">-10</text>
<rect x="18.7" y="156.3" width="4.5" height="1" fill="#c4c4c4"/>
<text transform="translate(15.3,159.5) scale(0.86,1)" font-size="8.2" fill="#b0b0b0" text-anchor="end">-5</text>
<rect x="18.7" y="137.3" width="4.5" height="1" fill="#c4c4c4"/>
<text transform="translate(15.3,140.5) scale(0.86,1)" font-size="8.2" fill="#b0b0b0" text-anchor="end">0</text>
<rect x="18.7" y="118.2" width="4.5" height="1" fill="#c4c4c4"/>
<text transform="translate(15.3,121.5) scale(0.86,1)" font-size="8.2" fill="#b0b0b0" text-anchor="end">5</text>
<rect x="18.7" y="99.2" width="4.5" height="1" fill="#c4c4c4"/>
<text transform="translate(15.3,102.4) scale(0.86,1)" font-size="8.2" fill="#b0b0b0" text-anchor="end">10</text>
<rect x="18.7" y="80.2" width="4.5" height="1" fill="#c4c4c4"/>
<text transform="translate(15.3,83.4) scale(0.86,1)" font-size="8.2" fill="#b0b0b0" text-anchor="end">15</text>
<rect x="18.7" y="61.1" width="4.5" height="1" fill="#c4c4c4"/>
<text transform="translate(15.3,64.3) scale(0.86,1)" font-size="8.2" fill="#b0b0b0" text-anchor="end">20</text>
<rect x="18.7" y="42.1" width="4.5" height="1" fill="#c4c4c4"/>
<text transform="translate(15.3,45.3) scale(0.86,1)" font-size="8.2" fill="#b0b0b0" text-anchor="end">25</text>
<rect x="18.7" y="23.0" width="4.5" height="1" fill="#c4c4c4"/>
<text transform="translate(15.3,26.2) scale(0.86,1)" font-size="8.2" fill="#b0b0b0" text-anchor="end">30</text>
<rect x="21" y="213.6" width="2" height="0.8" fill="#c8c8c8"/>
<rect x="21" y="209.8" width="2" height="0.8" fill="#c8c8c8"/>
<rect x="21" y="206.0" width="2" height="0.8" fill="#c8c8c8"/>
<rect x="21" y="202.2" width="2" height="0.8" fill="#c8c8c8"/>
<rect x="21" y="198.4" width="2" height="0.8" fill="#c8c8c8"/>
<rect x="21" y="194.5" width="2" height="0.8" fill="#c8c8c8"/>
<rect x="21" y="190.7" width="2" height="0.8" fill="#c8c8c8"/>
<rect x="21" y="186.9" width="2" height="0.8" fill="#c8c8c8"/>
<rect x="21" y="183.1" width="2" height="0.8" fill="#c8c8c8"/>
<rect x="21" y="179.3" width="2" height="0.8" fill="#c8c8c8"/>
<rect x="21" y="175.5" width="2" height="0.8" fill="#c8c8c8"/>
<rect x="21" y="171.7" width="2" height="0.8" fill="#c8c8c8"/>
<rect x="21" y="167.9" width="2" height="0.8" fill="#c8c8c8"/>
<rect x="21" y="164.1" width="2" height="0.8" fill="#c8c8c8"/>
<rect x="21" y="160.3" width="2" height="0.8" fill="#c8c8c8"/>
<rect x="21" y="156.4" width="2" height="0.8" fill="#c8c8c8"/>
<rect x="21" y="152.6" width="2" height="0.8" fill="#c8c8c8"/>
<rect x="21" y="148.8" width="2" height="0.8" fill="#c8c8c8"/>
<rect x="21" y="145.0" width="2" height="0.8" fill="#c8c8c8"/>
<rect x="21" y="141.2" width="2" height="0.8" fill="#c8c8c8"/>
<rect x="21" y="137.4" width="2" height="0.8" fill="#c8c8c8"/>
<rect x="21" y="133.6" width="2" height="0.8" fill="#c8c8c8"/>
<rect x="21" y="129.8" width="2" height="0.8" fill="#c8c8c8"/>
<rect x="21" y="126.0" width="2" height="0.8" fill="#c8c8c8"/>
<rect x="21" y="122.2" width="2" height="0.8" fill="#c8c8c8"/>
<rect x="21" y="118.3" width="2" height="0.8" fill="#c8c8c8"/>
<rect x="21" y="114.5" width="2" height="0.8" fill="#c8c8c8"/>
<rect x="21" y="110.7" width="2" height="0.8" fill="#c8c8c8"/>
<rect x="21" y="106.9" width="2" height="0.8" fill="#c8c8c8"/>
<rect x="21" y="103.1" width="2" height="0.8" fill="#c8c8c8"/>
<rect x="21" y="99.3" width="2" height="0.8" fill="#c8c8c8"/>
<rect x="21" y="95.5" width="2" height="0.8" fill="#c8c8c8"/>
<rect x="21" y="91.7" width="2" height="0.8" fill="#c8c8c8"/>
<rect x="21" y="87.9" width="2" height="0.8" fill="#c8c8c8"/>
<rect x="21" y="84.1" width="2" height="0.8" fill="#c8c8c8"/>
<rect x="21" y="80.2" width="2" height="0.8" fill="#c8c8c8"/>
<rect x="21" y="76.4" width="2" height="0.8" fill="#c8c8c8"/>
<rect x="21" y="72.6" width="2" height="0.8" fill="#c8c8c8"/>
<rect x="21" y="68.8" width="2" height="0.8" fill="#c8c8c8"/>
<rect x="21" y="65.0" width="2" height="0.8" fill="#c8c8c8"/>
<rect x="21" y="61.2" width="2" height="0.8" fill="#c8c8c8"/>
<rect x="21" y="57.4" width="2" height="0.8" fill="#c8c8c8"/>
<rect x="21" y="53.6" width="2" height="0.8" fill="#c8c8c8"/>
<rect x="21" y="49.8" width="2" height="0.8" fill="#c8c8c8"/>
<rect x="21" y="46.0" width="2" height="0.8" fill="#c8c8c8"/>
<rect x="21" y="42.2" width="2" height="0.8" fill="#c8c8c8"/>
<rect x="21" y="38.3" width="2" height="0.8" fill="#c8c8c8"/>
<rect x="21" y="34.5" width="2" height="0.8" fill="#c8c8c8"/>
<rect x="21" y="30.7" width="2" height="0.8" fill="#c8c8c8"/>
<rect x="21" y="26.9" width="2" height="0.8" fill="#c8c8c8"/>
<rect x="21" y="23.1" width="2" height="0.8" fill="#c8c8c8"/>
<rect x="43.5" y="213.8" width="4.5" height="1.4" fill="#ff3030"/>
<text transform="translate(39,216.8) scale(0.86,1)" font-size="8.2" fill="#ff0000" text-anchor="end">0</text>
<rect x="43.5" y="198.6" width="4.5" height="1.4" fill="#ff3030"/>
<text transform="translate(39,201.6) scale(0.86,1)" font-size="8.2" fill="#ff0000" text-anchor="end">2</text>
<rect x="43.5" y="183.3" width="4.5" height="1.4" fill="#ff3030"/>
<text transform="translate(39,186.3) scale(0.86,1)" font-size="8.2" fill="#ff0000" text-anchor="end">4</text>
<rect x="43.5" y="168.1" width="4.5" height="1.4" fill="#ff3030"/>
<text transform="translate(39,171.1) scale(0.86,1)" font-size="8.2" fill="#ff0000" text-anchor="end">6</text>
<rect x="43.5" y="152.8" width="4.5" height="1.4" fill="#ff3030"/>
<text transform="translate(39,155.8) scale(0.86,1)" font-size="8.2" fill="#ff0000" text-anchor="end">8</text>
<rect x="43.5" y="137.6" width="4.5" height="1.4" fill="#ff3030"/>
<text transform="translate(39,140.6) scale(0.86,1)" font-size="8.2" fill="#ff0000" text-anchor="end">10</text>
<rect x="43.5" y="122.3" width="4.5" height="1.4" fill="#ff3030"/>
<text transform="translate(39,125.3) scale(0.86,1)" font-size="8.2" fill="#ff0000" text-anchor="end">12</text>
<rect x="43.5" y="107.0" width="4.5" height="1.4" fill="#ff3030"/>
<text transform="translate(39,110.0) scale(0.86,1)" font-size="8.2" fill="#ff0000" text-anchor="end">14</text>
<rect x="43.5" y="91.8" width="4.5" height="1.4" fill="#ff3030"/>
<text transform="translate(39,94.8) scale(0.86,1)" font-size="8.2" fill="#ff0000" text-anchor="end">16</text>
<rect x="43.5" y="76.5" width="4.5" height="1.4" fill="#ff3030"/>
<text transform="translate(39,79.5) scale(0.86,1)" font-size="8.2" fill="#ff0000" text-anchor="end">18</text>
<rect x="43.5" y="61.3" width="4.5" height="1.4" fill="#ff3030"/>
<text transform="translate(39,64.3) scale(0.86,1)" font-size="8.2" fill="#ff0000" text-anchor="end">20</text>
<rect x="43.5" y="46.0" width="4.5" height="1.4" fill="#ff3030"/>
<text transform="translate(39,49.0) scale(0.86,1)" font-size="8.2" fill="#ff0000" text-anchor="end">22</text>
<rect x="43.5" y="30.8" width="4.5" height="1.4" fill="#ff3030"/>
<text transform="translate(39,33.8) scale(0.86,1)" font-size="8.2" fill="#ff0000" text-anchor="end">24</text>
<rect x="45.5" y="214.0" width="2.5" height="1" fill="#ff5050"/>
<rect x="45.5" y="210.2" width="2.5" height="1" fill="#ff5050"/>
<rect x="45.5" y="206.4" width="2.5" height="1" fill="#ff5050"/>
<rect x="45.5" y="202.6" width="2.5" height="1" fill="#ff5050"/>
<rect x="45.5" y="198.8" width="2.5" height="1" fill="#ff5050"/>
<rect x="45.5" y="194.9" width="2.5" height="1" fill="#ff5050"/>
<rect x="45.5" y="191.1" width="2.5" height="1" fill="#ff5050"/>
<rect x="45.5" y="187.3" width="2.5" height="1" fill="#ff5050"/>
<rect x="45.5" y="183.5" width="2.5" height="1" fill="#ff5050"/>
<rect x="45.5" y="179.7" width="2.5" height="1" fill="#ff5050"/>
<rect x="45.5" y="175.9" width="2.5" height="1" fill="#ff5050"/>
<rect x="45.5" y="172.1" width="2.5" height="1" fill="#ff5050"/>
<rect x="45.5" y="168.2" width="2.5" height="1" fill="#ff5050"/>
<rect x="45.5" y="164.4" width="2.5" height="1" fill="#ff5050"/>
<rect x="45.5" y="160.6" width="2.5" height="1" fill="#ff5050"/>
<rect x="45.5" y="156.8" width="2.5" height="1" fill="#ff5050"/>
<rect x="45.5" y="153.0" width="2.5" height="1" fill="#ff5050"/>
<rect x="45.5" y="149.2" width="2.5" height="1" fill="#ff5050"/>
<rect x="45.5" y="145.4" width="2.5" height="1" fill="#ff5050"/>
<rect x="45.5" y="141.6" width="2.5" height="1" fill="#ff5050"/>
<rect x="45.5" y="137.8" width="2.5" height="1" fill="#ff5050"/>
<rect x="45.5" y="133.9" width="2.5" height="1" fill="#ff5050"/>
<rect x="45.5" y="130.1" width="2.5" height="1" fill="#ff5050"/>
<rect x="45.5" y="126.3" width="2.5" height="1" fill="#ff5050"/>
<rect x="45.5" y="122.5" width="2.5" height="1" fill="#ff5050"/>
<rect x="45.5" y="118.7" width="2.5" height="1" fill="#ff5050"/>
<rect x="45.5" y="114.9" width="2.5" height="1" fill="#ff5050"/>
<rect x="45.5" y="111.1" width="2.5" height="1" fill="#ff5050"/>
<rect x="45.5" y="107.2" width="2.5" height="1" fill="#ff5050"/>
<rect x="45.5" y="103.4" width="2.5" height="1" fill="#ff5050"/>
<rect x="45.5" y="99.6" width="2.5" height="1" fill="#ff5050"/>
<rect x="45.5" y="95.8" width="2.5" height="1" fill="#ff5050"/>
<rect x="45.5" y="92.0" width="2.5" height="1" fill="#ff5050"/>
<rect x="45.5" y="88.2" width="2.5" height="1" fill="#ff5050"/>
<rect x="45.5" y="84.4" width="2.5" height="1" fill="#ff5050"/>
<rect x="45.5" y="80.6" width="2.5" height="1" fill="#ff5050"/>
<rect x="45.5" y="76.8" width="2.5" height="1" fill="#ff5050"/>
<rect x="45.5" y="72.9" width="2.5" height="1" fill="#ff5050"/>
<rect x="45.5" y="69.1" width="2.5" height="1" fill="#ff5050"/>
<rect x="45.5" y="65.3" width="2.5" height="1" fill="#ff5050"/>
<rect x="45.5" y="61.5" width="2.5" height="1" fill="#ff5050"/>
<rect x="45.5" y="57.7" width="2.5" height="1" fill="#ff5050"/>
<rect x="45.5" y="53.9" width="2.5" height="1" fill="#ff5050"/>
<rect x="45.5" y="50.1" width="2.5" height="1" fill="#ff5050"/>
<rect x="45.5" y="46.2" width="2.5" height="1" fill="#ff5050"/>
<rect x="45.5" y="42.4" width="2.5" height="1" fill="#ff5050"/>
<rect x="45.5" y="38.6" width="2.5" height="1" fill="#ff5050"/>
<rect x="45.5" y="34.8" width="2.5" height="1" fill="#ff5050"/>
<rect x="45.5" y="31.0" width="2.5" height="1" fill="#ff5050"/>
<rect x="553" y="213.6" width="4.5" height="1.4" fill="#ff30ff"/>
<text transform="translate(559.5,216.0) scale(0.86,1)" font-size="8.2" fill="#ff00ff">950</text>
<rect x="553" y="194.6" width="4.5" height="1.4" fill="#ff30ff"/>
<text transform="translate(559.5,197.0) scale(0.86,1)" font-size="8.2" fill="#ff00ff">960</text>
<rect x="553" y="175.6" width="4.5" height="1.4" fill="#ff30ff"/>
<text transform="translate(559.5,178.0) scale(0.86,1)" font-size="8.2" fill="#ff00ff">970</text>
<rect x="553" y="156.6" width="4.5" height="1.4" fill="#ff30ff"/>
<text transform="translate(559.5,159.0) scale(0.86,1)" font-size="8.2" fill="#ff00ff">980</text>
<rect x="553" y="137.6" width="4.5" height="1.4" fill="#ff30ff"/>
<text transform="translate(559.5,140.0) scale(0.86,1)" font-size="8.2" fill="#ff00ff">990</text>
<rect x="553" y="118.6" width="4.5" height="1.4" fill="#ff30ff"/>
<text transform="translate(559.5,121.0) scale(0.86,1)" font-size="8.2" fill="#ff00ff">1000</text>
<rect x="553" y="99.6" width="4.5" height="1.4" fill="#ff30ff"/>
<text transform="translate(559.5,102.0) scale(0.86,1)" font-size="8.2" fill="#ff00ff">1010</text>
<rect x="553" y="80.6" width="4.5" height="1.4" fill="#ff30ff"/>
<text transform="translate(559.5,83.0) scale(0.86,1)" font-size="8.2" fill="#ff00ff">1020</text>
<rect x="553" y="61.6" width="4.5" height="1.4" fill="#ff30ff"/>
<text transform="translate(559.5,64.0) scale(0.86,1)" font-size="8.2" fill="#ff00ff">1030</text>
<rect x="553" y="42.6" width="4.5" height="1.4" fill="#ff30ff"/>
<text transform="translate(559.5,45.0) scale(0.86,1)" font-size="8.2" fill="#ff00ff">1040</text>
<rect x="553" y="23.6" width="4.5" height="1.4" fill="#ff30ff"/>
<text transform="translate(559.5,26.0) scale(0.86,1)" font-size="8.2" fill="#ff00ff">1050</text>
<rect x="553" y="213.8" width="2.5" height="1" fill="#ff60ff"/>
<rect x="553" y="209.1" width="2.5" height="1" fill="#ff60ff"/>
<rect x="553" y="204.3" width="2.5" height="1" fill="#ff60ff"/>
<rect x="553" y="199.6" width="2.5" height="1" fill="#ff60ff"/>
<rect x="553" y="194.8" width="2.5" height="1" fill="#ff60ff"/>
<rect x="553" y="190.1" width="2.5" height="1" fill="#ff60ff"/>
<rect x="553" y="185.3" width="2.5" height="1" fill="#ff60ff"/>
<rect x="553" y="180.6" width="2.5" height="1" fill="#ff60ff"/>
<rect x="553" y="175.8" width="2.5" height="1" fill="#ff60ff"/>
<rect x="553" y="171.1" width="2.5" height="1" fill="#ff60ff"/>
<rect x="553" y="166.3" width="2.5" height="1" fill="#ff60ff"/>
<rect x="553" y="161.6" width="2.5" height="1" fill="#ff60ff"/>
<rect x="553" y="156.8" width="2.5" height="1" fill="#ff60ff"/>
<rect x="553" y="152.1" width="2.5" height="1" fill="#ff60ff"/>
<rect x="553" y="147.3" width="2.5" height="1" fill="#ff60ff"/>
<rect x="553" y="142.6" width="2.5" height="1" fill="#ff60ff"/>
<rect x="553" y="137.8" width="2.5" height="1" fill="#ff60ff"/>
<rect x="553" y="133.1" width="2.5" height="1" fill="#ff60ff"/>
<rect x="553" y="128.3" width="2.5" height="1" fill="#ff60ff"/>
<rect x="553" y="123.6" width="2.5" height="1" fill="#ff60ff"/>
<rect x="553" y="118.8" width="2.5" height="1" fill="#ff60ff"/>
<rect x="553" y="114.1" width="2.5" height="1" fill="#ff60ff"/>
<rect x="553" y="109.3" width="2.5" height="1" fill="#ff60ff"/>
<rect x="553" y="104.6" width="2.5" height="1" fill="#ff60ff"/>
<rect x="553" y="99.8" width="2.5" height="1" fill="#ff60ff"/>
<rect x="553" y="95.1" width="2.5" height="1" fill="#ff60ff"/>
<rect x="553" y="90.3" width="2.5" height="1" fill="#ff60ff"/>
<rect x="553" y="85.6" width="2.5" height="1" fill="#ff60ff"/>
<rect x="553" y="80.8" width="2.5" height="1" fill="#ff60ff"/>
<rect x="553" y="76.1" width="2.5" height="1" fill="#ff60ff"/>
<rect x="553" y="71.3" width="2.5" height="1" fill="#ff60ff"/>
<rect x="553" y="66.6" width="2.5" height="1" fill="#ff60ff"/>
<rect x="553" y="61.8" width="2.5" height="1" fill="#ff60ff"/>
<rect x="553" y="57.1" width="2.5" height="1" fill="#ff60ff"/>
<rect x="553" y="52.3" width="2.5" height="1" fill="#ff60ff"/>
<rect x="553" y="47.6" width="2.5" height="1" fill="#ff60ff"/>
<rect x="553" y="42.8" width="2.5" height="1" fill="#ff60ff"/>
<rect x="553" y="38.1" width="2.5" height="1" fill="#ff60ff"/>
<rect x="553" y="33.3" width="2.5" height="1" fill="#ff60ff"/>
<rect x="553" y="28.6" width="2.5" height="1" fill="#ff60ff"/>
<rect x="553" y="23.8" width="2.5" height="1" fill="#ff60ff"/>
</g>
<rect x="58.7" y="219" width="1.2" height="2.4" fill="#a8a8a8"/>
<rect x="69.1" y="219" width="1.2" height="2.4" fill="#a8a8a8"/>
<rect x="79.5" y="219" width="1.2" height="2.4" fill="#a8a8a8"/>
<rect x="89.8" y="219" width="1.4" height="4" fill="#a4a4a4"/>
<text transform="translate(90.5,231.4) scale(0.86,1)" font-size="8.2" fill="#2020ee" text-anchor="middle">02</text>
<rect x="100.3" y="219" width="1.2" height="2.4" fill="#a8a8a8"/>
<rect x="110.7" y="219" width="1.2" height="2.4" fill="#a8a8a8"/>
<rect x="121.1" y="219" width="1.2" height="2.4" fill="#a8a8a8"/>
<rect x="131.4" y="219" width="1.4" height="4" fill="#a4a4a4"/>
<text transform="translate(132.1,231.4) scale(0.86,1)" font-size="8.2" fill="#2020ee" text-anchor="middle">04</text>
<rect x="141.9" y="219" width="1.2" height="2.4" fill="#a8a8a8"/>
<rect x="152.3" y="219" width="1.2" height="2.4" fill="#a8a8a8"/>
<rect x="162.7" y="219" width="1.2" height="2.4" fill="#a8a8a8"/>
<rect x="173.0" y="219" width="1.4" height="4" fill="#a4a4a4"/>
<text transform="translate(173.7,231.4) scale(0.86,1)" font-size="8.2" fill="#2020ee" text-anchor="middle">06</text>
<rect x="183.5" y="219" width="1.2" height="2.4" fill="#a8a8a8"/>
<rect x="193.9" y="219" width="1.2" height="2.4" fill="#a8a8a8"/>
<rect x="204.3" y="219" width="1.2" height="2.4" fill="#a8a8a8"/>
<rect x="214.6" y="219" width="1.4" height="4" fill="#a4a4a4"/>
<text transform="translate(215.3,231.4) scale(0.86,1)" font-size="8.2" fill="#2020ee" text-anchor="middle">08</text>
<rect x="225.1" y="219" width="1.2" height="2.4" fill="#a8a8a8"/>
<rect x="235.5" y="219" width="1.2" height="2.4" fill="#a8a8a8"/>
<rect x="245.9" y="219" width="1.2" height="2.4" fill="#a8a8a8"/>
<rect x="256.2" y="219" width="1.4" height="4" fill="#a4a4a4"/>
<text transform="translate(256.9,231.4) scale(0.86,1)" font-size="8.2" fill="#2020ee" text-anchor="middle">10</text>
<rect x="266.7" y="219" width="1.2" height="2.4" fill="#a8a8a8"/>
<rect x="277.1" y="219" width="1.2" height="2.4" fill="#a8a8a8"/>
<rect x="287.5" y="219" width="1.2" height="2.4" fill="#a8a8a8"/>
<rect x="297.8" y="219" width="1.4" height="4" fill="#a4a4a4"/>
<text transform="translate(298.5,231.4) scale(0.86,1)" font-size="8.2" fill="#2020ee" text-anchor="middle">12</text>
<rect x="308.3" y="219" width="1.2" height="2.4" fill="#a8a8a8"/>
<rect x="318.7" y="219" width="1.2" height="2.4" fill="#a8a8a8"/>
<rect x="329.1" y="219" width="1.2" height="2.4" fill="#a8a8a8"/>
<rect x="339.4" y="219" width="1.4" height="4" fill="#a4a4a4"/>
<text transform="translate(340.1,231.4) scale(0.86,1)" font-size="8.2" fill="#2020ee" text-anchor="middle">14</text>
<rect x="349.9" y="219" width="1.2" height="2.4" fill="#a8a8a8"/>
<rect x="360.3" y="219" width="1.2" height="2.4" fill="#a8a8a8"/>
<rect x="370.7" y="219" width="1.2" height="2.4" fill="#a8a8a8"/>
<rect x="381.0" y="219" width="1.4" height="4" fill="#a4a4a4"/>
<text transform="translate(381.7,231.4) scale(0.86,1)" font-size="8.2" fill="#2020ee" text-anchor="middle">16</text>
<rect x="391.5" y="219" width="1.2" height="2.4" fill="#a8a8a8"/>
<rect x="401.9" y="219" width="1.2" height="2.4" fill="#a8a8a8"/>
<rect x="412.3" y="219" width="1.2" height="2.4" fill="#a8a8a8"/>
<rect x="422.6" y="219" width="1.4" height="4" fill="#a4a4a4"/>
<text transform="translate(423.3,231.4) scale(0.86,1)" font-size="8.2" fill="#2020ee" text-anchor="middle">18</text>
<rect x="433.1" y="219" width="1.2" height="2.4" fill="#a8a8a8"/>
<rect x="443.5" y="219" width="1.2" height="2.4" fill="#a8a8a8"/>
<rect x="453.9" y="219" width="1.2" height="2.4" fill="#a8a8a8"/>
<rect x="464.2" y="219" width="1.4" height="4" fill="#a4a4a4"/>
<text transform="translate(464.9,231.4) scale(0.86,1)" font-size="8.2" fill="#2020ee" text-anchor="middle">20</text>
<rect x="474.7" y="219" width="1.2" height="2.4" fill="#a8a8a8"/>
<rect x="485.1" y="219" width="1.2" height="2.4" fill="#a8a8a8"/>
<rect x="495.5" y="219" width="1.2" height="2.4" fill="#a8a8a8"/>
<rect x="505.8" y="219" width="1.4" height="4" fill="#a4a4a4"/>
<text transform="translate(506.5,231.4) scale(0.86,1)" font-size="8.2" fill="#2020ee" text-anchor="middle">22</text>
<rect x="516.3" y="219" width="1.2" height="2.4" fill="#a8a8a8"/>
<rect x="526.7" y="219" width="1.2" height="2.4" fill="#a8a8a8"/>
<rect x="537.1" y="219" width="1.2" height="2.4" fill="#a8a8a8"/>
<rect x="547.4" y="219" width="1.4" height="4" fill="#a4a4a4"/>
<text transform="translate(548.1,231.4) scale(0.86,1)" font-size="8.2" fill="#2020ee" text-anchor="middle">00</text>
<text x="206" y="9.6" font-size="11.4" fill="#000" textLength="186" lengthAdjust="spacingAndGlyphs">24 hour graph day : 05 November 2025</text>
<text x="50" y="18.4" font-size="11.4" fill="#ff0000" textLength="77" lengthAdjust="spacingAndGlyphs">Windspeed (kts)</text>
<text x="498.6" y="18" font-size="11.4" fill="#ff00ff" textLength="74.5" lengthAdjust="spacingAndGlyphs">Barometer (hpa)</text>
<rect x="48" y="242" width="505.79999999999995" height="74.19999999999999" fill="url(#gt)"/>
<rect x="48" y="242" width="505.79999999999995" height="1" fill="#cfcfcf"/>
<line x1="50" x2="551.8" y1="296.8" y2="296.8" stroke="#cecece" stroke-width="1" stroke-dasharray="1,1.5"/>
<line x1="50" x2="551.8" y1="279.4" y2="279.4" stroke="#cecece" stroke-width="1" stroke-dasharray="1,1.5"/>
<line x1="50" x2="551.8" y1="262.1" y2="262.1" stroke="#cecece" stroke-width="1" stroke-dasharray="1,1.5"/>
<line x1="93.3" x2="93.3" y1="243" y2="314.2" stroke="#d6d6d6" stroke-width="1" stroke-dasharray="1,2"/>
<line x1="135.1" x2="135.1" y1="243" y2="314.2" stroke="#d6d6d6" stroke-width="1" stroke-dasharray="1,2"/>
<line x1="177.0" x2="177.0" y1="243" y2="314.2" stroke="#d6d6d6" stroke-width="1" stroke-dasharray="1,2"/>
<line x1="218.8" x2="218.8" y1="243" y2="314.2" stroke="#d6d6d6" stroke-width="1" stroke-dasharray="1,2"/>
<line x1="260.7" x2="260.7" y1="243" y2="314.2" stroke="#d6d6d6" stroke-width="1" stroke-dasharray="1,2"/>
<line x1="302.6" x2="302.6" y1="243" y2="314.2" stroke="#d6d6d6" stroke-width="1" stroke-dasharray="1,2"/>
<line x1="344.4" x2="344.4" y1="243" y2="314.2" stroke="#d6d6d6" stroke-width="1" stroke-dasharray="1,2"/>
<line x1="386.3" x2="386.3" y1="243" y2="314.2" stroke="#d6d6d6" stroke-width="1" stroke-dasharray="1,2"/>
<line x1="428.1" x2="428.1" y1="243" y2="314.2" stroke="#d6d6d6" stroke-width="1" stroke-dasharray="1,2"/>
<line x1="470.0" x2="470.0" y1="243" y2="314.2" stroke="#d6d6d6" stroke-width="1" stroke-dasharray="1,2"/>
<line x1="511.9" x2="511.9" y1="243" y2="314.2" stroke="#d6d6d6" stroke-width="1" stroke-dasharray="1,2"/>
<rect x="48" y="242" width="2.4" height="74.19999999999999" fill="#a6a6a6"/>
<rect x="48" y="314.2" width="505.79999999999995" height="2.0" fill="#bcbcbc"/>
<polyline points="51.3,276.5 51.8,278.4 52.3,273.7 52.8,274.2 53.3,278.1 53.8,278.4 54.3,277.3 54.8,278.0 55.3,278.2 55.8,278.7 56.3,277.6 56.8,276.9 57.3,276.9 57.8,276.7 58.3,279.3 58.8,277.4 59.3,276.0 59.8,274.9 60.3,276.1 60.8,278.0 61.3,278.5 61.8,276.9 62.0,274.5 62.3,275.8 62.8,277.9 63.3,276.9 63.8,278.1 64.3,277.0 64.8,276.2 65.3,276.5 65.8,278.8 66.3,277.8 66.8,278.6 67.3,277.4 67.8,277.7 68.3,276.4 68.8,275.8 69.3,277.6 69.8,278.8 70.3,278.6 70.8,278.0 71.3,276.1 71.8,277.2 72.3,276.5 72.8,276.2 73.3,277.4 73.8,276.7 74.3,277.3 74.8,277.5 75.0,275.0 75.3,277.5 75.8,279.1 76.3,277.7 76.8,279.0 77.3,278.9 77.8,277.7 78.3,277.6 78.8,278.9 79.3,276.8 79.8,277.2 80.3,278.0 80.8,278.1 81.3,278.8 81.8,277.8 82.3,278.3 82.8,275.4 83.3,276.7 83.8,276.3 84.3,279.1 84.8,278.7 85.3,279.3 85.8,278.1 86.3,277.2 86.8,277.0 87.3,277.7 87.8,280.0 88.3,279.6 88.8,279.6 89.3,280.7 89.8,278.5 90.3,277.7 90.8,277.6 91.3,278.4 91.8,280.2 92.3,279.8 92.8,279.2 93.3,277.4 93.8,278.5 94.3,279.7 94.8,277.9 95.3,278.1 95.8,277.5 96.3,275.4 96.8,276.1 97.3,277.0 97.8,276.5 98.3,278.3 98.8,278.1 99.3,279.2 99.8,279.0 100.3,279.7 100.8,280.2 101.3,279.7 101.8,278.8 102.3,278.9 102.8,279.8 103.3,279.7 103.8,278.3 104.3,277.8 104.8,279.1 105.3,278.1 105.8,278.4 106.0,281.0 106.3,279.3 106.8,277.5 107.3,279.4 107.8,278.9 108.3,279.1 108.8,278.0 109.3,276.3 109.8,278.3 110.3,278.7 110.8,279.5 111.3,279.7 111.8,277.7 112.3,278.0 112.8,275.9 113.3,278.1 113.8,278.9 114.3,279.9 114.8,279.1 115.3,278.0 115.8,278.5 116.3,278.8 116.8,278.0 117.3,276.4 117.8,276.8 118.3,278.2 118.8,278.3 119.3,277.2 119.8,276.5 120.3,275.1 120.8,278.0 121.3,277.0 121.8,276.2 122.3,276.8 122.8,278.0 123.3,276.0 123.8,277.1 124.3,276.7 124.8,277.3 125.3,277.4 125.8,278.5 126.3,278.8 126.8,276.6 127.3,276.4 127.8,275.8 128.3,277.1 128.8,276.1 129.3,274.5 129.8,276.1 130.3,275.2 130.8,274.2 131.3,275.9 131.8,276.1 132.3,278.2 132.8,276.2 133.3,277.0 133.8,276.6 134.3,275.6 134.8,276.2 135.3,276.9 135.8,279.4 136.3,276.4 136.8,275.4 137.3,275.8 137.8,275.2 138.3,276.0 138.8,276.7 139.3,276.7 139.8,275.8 140.3,277.5 140.8,278.4 141.3,277.4 141.8,275.3 142.3,277.6 142.8,276.7 143.3,276.2 143.8,275.4 144.3,276.1 144.8,277.9 145.3,276.6 145.8,274.2 146.3,274.8 146.8,275.7 147.3,276.5 147.8,274.8 148.3,274.9 148.8,276.1 149.3,277.0 149.8,277.7 150.3,278.4 150.8,278.2 151.3,278.9 151.8,276.8 152.3,276.5 152.8,278.1 153.3,280.1 153.8,277.1 154.3,278.6 154.8,279.2 155.3,277.2 155.8,279.0 156.3,280.5 156.8,278.3 157.0,285.7 157.3,278.5 157.8,277.4 158.3,278.5 158.8,280.2 159.3,279.2 159.8,279.5 160.3,281.4 160.8,279.9 161.3,280.4 161.8,283.2 162.3,280.8 162.8,280.9 163.3,279.9 163.8,281.6 164.3,280.3 164.8,279.4 165.3,280.2 165.8,280.7 166.3,279.7 166.8,280.9 167.3,281.3 167.8,280.7 168.3,279.8 168.8,279.3 169.3,279.0 169.8,278.5 170.3,280.7 170.8,280.8 171.3,282.3 171.8,281.0 172.3,282.3 172.8,279.2 173.3,280.0 173.8,280.9 174.3,279.8 174.8,281.4 175.3,280.5 175.8,279.4 176.3,277.9 176.8,279.6 177.3,280.1 177.8,277.6 178.3,278.3 178.8,278.9 179.3,279.2 179.8,279.5 180.3,280.6 180.8,280.2 181.3,280.6 181.8,281.0 182.3,280.9 182.8,281.2 183.3,279.4 183.8,279.9 184.3,279.6 184.8,280.3 185.3,281.1 185.8,278.6 186.3,279.3 186.8,278.5 187.3,279.5 187.8,279.2 188.3,280.3 188.8,281.1 189.3,280.7 189.8,280.3 190.3,278.9 190.8,278.6 191.3,278.5 191.8,277.6 192.3,278.4 192.8,277.9 193.3,277.6 193.8,275.8 194.3,275.7 194.8,277.9 195.3,277.2 195.8,276.8 196.3,275.3 196.8,274.6 197.3,275.9 197.8,277.6 198.3,278.2 198.8,278.3 199.3,278.5 199.8,278.9 200.3,277.4 200.8,277.7 201.3,278.3 201.8,280.0 202.3,280.1 202.8,279.6 203.3,280.2 203.8,279.3 204.3,276.2 204.8,277.2 205.3,280.4 205.8,279.1 206.3,278.9 206.8,279.5 207.3,280.5 207.8,280.8 208.3,282.6 208.8,282.1 209.3,281.1 209.8,280.3 210.3,280.7 210.8,280.2 211.3,281.5 211.8,282.8 212.3,282.4 212.8,281.0 213.3,280.1 213.8,279.6 214.3,279.3 214.8,279.4 215.3,279.1 215.8,278.7 216.3,279.3 216.8,281.3 217.3,277.8 217.8,278.4 218.3,279.0 218.8,278.5 219.3,278.3 219.8,278.9 220.3,279.1 220.8,280.5 221.3,279.5 221.8,279.5 222.3,280.2 222.8,279.6 223.3,277.8 223.8,277.3 224.3,276.3 224.8,279.4 225.3,278.2 225.8,277.4 226.3,277.5 226.8,276.8 227.3,276.4 227.8,276.9 228.3,277.7 228.8,275.5 229.3,277.4 229.8,279.8 230.0,274.0 230.3,277.4 230.8,275.6 231.3,276.7 231.8,277.0 232.3,277.3 232.8,277.0 233.3,276.0 233.8,276.5 234.3,278.3 234.8,278.1 235.3,279.5 235.8,278.8 236.3,278.7 236.8,277.9 237.3,275.9 237.8,277.4 238.3,278.6 238.8,277.2 239.3,277.4 239.8,275.8 240.3,276.7 240.8,275.4 241.3,276.2 241.8,278.4 242.3,277.2 242.8,277.3 243.3,274.9 243.8,276.5 244.3,276.3 244.8,275.9 245.3,275.2 245.8,277.2 246.3,278.1 246.8,276.6 247.3,276.6 247.8,275.0 248.3,275.1 248.8,274.7 249.3,277.7 249.8,277.8 250.3,277.6 250.8,275.1 251.3,276.5 251.8,275.8 252.3,275.0 252.8,275.2 253.3,277.1 253.8,275.7 254.3,278.4 254.8,276.2 255.3,278.0 255.8,277.6 256.3,275.6 256.8,277.2 257.3,276.9 257.8,275.6 258.3,274.2 258.8,277.6 259.3,277.1 259.8,278.4 260.3,277.6 260.8,275.3 261.3,277.1 261.8,276.0 262.3,276.0 262.8,277.2 263.3,274.5 263.8,274.1 264.3,276.6 264.8,275.6 265.3,275.4 265.8,276.6 266.3,277.4 266.8,278.0 267.3,278.0 267.8,277.6 268.0,279.5 268.3,276.6 268.8,276.6 269.3,274.7 269.8,279.0 270.3,278.3 270.8,279.4 271.3,276.3 271.8,277.2 272.3,276.8 272.8,277.4 273.3,276.0 273.8,275.5 274.3,277.1 274.8,276.0 275.3,276.0 275.8,276.9 276.3,277.2 276.8,277.7 277.3,277.9 277.8,274.8 278.3,276.9 278.8,276.4 279.3,275.5 279.8,278.3 280.3,277.5 280.8,275.3 281.3,278.0 281.8,274.6 282.3,275.7 282.8,276.3 283.3,276.8 283.8,276.2 284.3,276.4 284.8,278.0 285.3,276.0 285.8,274.7 286.3,274.4 286.8,272.8 287.3,275.0 287.8,274.1 288.3,275.3 288.8,275.6 289.3,276.2 289.8,275.5 290.3,275.0 290.8,276.7 291.3,276.1 291.8,277.2 292.3,276.5 292.8,277.4 293.3,276.4 293.8,274.8 294.3,277.8 294.8,276.2 295.3,277.9 295.8,277.6 296.3,275.1 296.8,276.1 297.3,278.7 297.8,277.5 298.3,277.3 298.8,276.4 299.3,275.8 299.8,276.9 300.3,275.9 300.8,276.1 301.3,275.1 301.8,274.9 302.3,276.8 302.8,275.8 303.3,278.4 303.8,276.7 304.3,275.8 304.8,276.3 305.3,276.8 305.8,275.1 306.3,275.8 306.8,275.2 307.3,272.2 307.8,272.1 308.3,273.1 308.8,273.4 309.0,272.2 309.3,274.1 309.8,274.1 310.3,273.2 310.8,273.7 311.3,276.7 311.8,276.7 312.3,274.4 312.8,273.4 313.3,275.2 313.8,274.6 314.3,275.4 314.8,274.2 315.3,275.1 315.8,273.5 316.3,275.5 316.8,275.3 317.3,275.4 317.8,274.3 318.3,274.6 318.8,274.1 319.3,274.0 319.8,275.9 320.3,274.3 320.8,272.6 321.3,271.8 321.8,272.7 322.3,274.9 322.8,274.5 323.3,275.2 323.8,275.1 324.3,277.0 324.8,276.0 325.3,274.6 325.8,274.4 326.3,274.7 326.8,277.4 327.3,276.7 327.8,278.0 328.3,278.1 328.8,276.6 329.3,279.4 329.8,280.1 330.3,277.8 330.8,277.1 331.3,277.3 331.8,278.3 332.3,278.7 332.8,278.4 333.3,278.3 333.5,287.7 333.8,280.0 334.3,278.1 334.8,276.8 335.3,277.9 335.8,278.8 336.3,277.5 336.8,279.6 337.3,277.6 337.8,279.8 338.3,279.6 338.8,278.8 339.3,278.8 339.8,279.0 340.3,277.3 340.8,278.1 341.3,278.2 341.8,280.2 342.3,277.4 342.8,280.9 343.3,281.5 343.8,278.3 344.3,280.1 344.8,280.3 345.3,280.5 345.8,277.6 346.3,277.9 346.8,276.1 347.3,278.4 347.8,279.4 348.3,278.9 348.8,277.1 349.3,279.3 349.8,279.9 350.3,280.5 350.8,277.9 351.3,279.3 351.8,278.2 352.3,277.7 352.8,278.6 353.3,280.1 353.8,278.1 354.3,279.9 354.8,280.8 355.3,277.5 355.8,279.9 356.3,279.2 356.8,279.9 357.3,278.3 357.8,276.4 358.3,278.3 358.8,278.8 359.3,278.3 359.8,278.4 360.3,278.1 360.8,279.1 361.3,278.8 361.8,277.0 362.3,277.4 362.8,276.5 363.3,278.8 363.8,279.6 364.3,279.8 364.8,278.7 365.3,279.6 365.8,280.0 366.3,282.4 366.8,280.9 367.3,280.8 367.8,279.2 368.3,278.8 368.8,280.6 369.3,280.5 369.8,278.8 370.3,280.5 370.8,278.5 371.3,279.1 371.8,277.6 372.3,277.1 372.8,278.3 373.3,279.7 373.8,278.8 374.3,278.1 374.8,279.9 375.3,279.8 375.8,279.1 376.3,280.5 376.8,279.9 377.3,281.5 377.8,282.0 378.3,280.4 378.8,280.9 379.3,279.9 379.8,278.2 380.3,275.7 380.8,277.9 381.3,277.4 381.8,277.8 382.3,280.1 382.8,279.8 383.3,278.1 383.8,279.1 384.3,278.4 384.8,281.5 385.3,281.4 385.8,279.7 386.3,279.5 386.8,280.8 387.3,280.2 387.8,278.7 388.3,280.5 388.8,279.4 389.3,279.1 389.8,278.4 390.3,279.9 390.8,281.3 391.3,279.8 391.8,280.5 392.3,280.5 392.8,279.4 393.3,279.7 393.8,279.7 394.3,277.2 394.8,280.3 395.0,276.0 395.3,278.2 395.8,279.8 396.3,279.7 396.8,279.1 397.3,278.2 397.8,279.9 398.3,279.0 398.8,278.4 399.3,278.0 399.8,277.6 400.3,275.9 400.8,279.3 401.3,280.4 401.8,278.5 402.3,279.5 402.8,280.8 403.3,280.3 403.8,280.0 404.3,279.5 404.8,278.9 405.3,279.2 405.8,279.1 406.3,279.5 406.8,277.3 407.3,278.5 407.8,277.0 408.3,279.0 408.8,281.0 409.3,280.3 409.8,278.8 410.3,279.1 410.8,278.9 411.3,279.0 411.8,277.5 412.3,279.7 412.8,279.5 413.3,277.4 413.8,279.6 414.3,278.2 414.8,277.4 415.3,277.1 415.8,278.1 416.3,277.8 416.8,277.6 417.3,278.2 417.8,279.8 418.3,280.9 418.8,281.0 419.3,279.4 419.8,278.1 420.3,280.6 420.8,279.9 421.3,279.4 421.8,278.0 422.3,279.2 422.8,278.0 423.3,279.3 423.8,277.9 424.3,279.1 424.8,279.1 425.3,277.5 425.8,280.1 426.3,281.0 426.8,278.7 427.3,277.3 427.8,277.4 428.3,276.8 428.8,278.0 429.3,276.1 429.8,274.7 430.3,276.8 430.8,278.0 431.3,278.2 431.8,276.4 432.3,277.3 432.8,275.5 433.3,278.1 433.8,279.7 434.3,277.6 434.8,277.7 435.3,278.9 435.8,279.1 436.3,277.7 436.8,277.5 437.3,278.6 437.8,275.0 438.3,278.3 438.8,278.7 439.3,278.3 439.8,279.2 440.3,280.0 440.8,277.1 441.3,276.5 441.8,278.3 442.3,275.8 442.8,277.3 443.3,277.5 443.8,277.4 444.3,277.7 444.8,278.5 445.3,278.2 445.8,277.3 446.3,279.4 446.8,276.2 447.3,275.6 447.8,277.3 448.3,278.9 448.8,277.1 449.3,279.0 449.8,276.9 450.3,275.6 450.8,276.0 451.3,277.4 451.8,276.9 452.3,275.9 452.8,275.0 453.3,278.4 453.8,277.6 454.3,275.2 454.8,277.1 455.0,281.0 455.3,276.8 455.8,276.8 456.3,276.1 456.8,277.0 457.3,276.6 457.8,275.2 458.3,276.7 458.8,277.1 459.3,275.5 459.8,276.0 460.3,277.2 460.8,279.2 461.3,277.5 461.8,276.8 462.3,277.8 462.8,277.1 463.3,278.6 463.8,277.8 464.3,275.3 464.8,278.3 465.3,279.6 465.8,277.7 466.3,278.9 466.8,278.3 467.3,276.7 467.8,276.6 468.3,278.4 468.8,278.1 469.3,274.8 469.8,276.9 470.3,277.4 470.8,275.0 471.3,277.1 471.8,277.7 472.3,275.9 472.8,276.6 473.3,276.5 473.8,278.3 474.3,278.8 474.8,277.6 475.3,277.8 475.8,277.2 476.3,279.0 476.8,278.3 477.3,279.0 477.8,278.7 478.3,276.3 478.8,275.7 479.3,275.1 479.8,276.2 480.3,276.0 480.8,275.4 481.3,274.8 481.8,276.6 482.3,276.0 482.8,276.1 483.3,276.9 483.8,277.8 484.3,277.2 484.8,275.8 485.3,275.4 485.8,273.9 486.3,273.5 486.8,271.9 487.3,273.8 487.8,274.5 488.3,273.2 488.8,274.2 489.3,275.4 489.8,275.4 490.3,277.4 490.8,273.5 491.3,275.1 491.8,275.4 492.3,274.7 492.8,275.7 493.3,273.7 493.8,274.5 494.3,274.4 494.8,275.4 495.3,275.4 495.8,275.2 496.3,274.2 496.8,272.9 497.3,274.5 497.8,275.9 498.3,277.9 498.8,275.7 499.3,274.5 499.8,274.5 500.3,275.2 500.8,273.9 501.3,275.8 501.8,276.8 502.3,279.0 502.8,279.1 503.0,282.5 503.3,278.1 503.8,277.5 504.3,279.6 504.8,277.4 505.3,279.3 505.8,279.0 506.3,278.1 506.8,278.8 507.3,279.6 507.8,280.0 508.3,278.8 508.8,278.0 509.3,277.5 509.8,278.2 510.3,279.5 510.8,280.8 511.3,278.2 511.8,276.9 512.3,276.2 512.8,275.9 513.3,277.2 513.8,276.6 514.3,277.5 514.8,277.6 515.3,276.7 515.8,277.2 516.3,276.6 516.8,277.1 517.3,277.6 517.8,277.7 518.3,277.9 518.8,277.0 519.3,277.3 519.8,278.0 520.3,277.9 520.8,277.7 521.3,277.9 521.8,276.1 522.3,276.0 522.8,276.4 523.3,276.9 523.8,276.8 524.3,275.8 524.8,275.6 525.3,274.5 525.8,273.6 526.3,276.3 526.8,273.7 527.3,272.1 527.8,273.3 528.3,272.9 528.8,272.6 529.3,274.1 529.8,276.2 530.3,276.4 530.8,273.9 531.3,273.7 531.8,274.4 532.3,275.9 532.8,274.4 533.3,273.9 533.5,271.5 533.8,273.8 534.3,275.1 534.8,274.4 535.3,273.6 535.8,274.9 536.3,275.2 536.8,274.8 537.3,276.0 537.8,274.1 538.3,273.6 538.8,273.6 539.3,274.7 539.8,274.6 540.3,275.7 540.8,276.0 541.3,275.5 541.8,276.0 542.3,275.7 542.8,274.3 543.3,275.7 543.8,276.0 544.3,274.1 544.8,274.6 545.3,274.6 545.8,274.3 546.3,277.1 546.8,274.5 547.3,273.0 547.8,275.6 548.3,275.7 548.8,276.9 549.3,276.0 549.8,275.2 550.3,277.9 550.8,276.4 551.3,276.8 551.8,275.2 552.3,275.2 552.8,276.3 553.3,274.4" fill="none" stroke="#e07d1c" stroke-width="1.7" stroke-linejoin="round" />
<g clip-path="url(#cm)">
<rect x="43.5" y="313.4" width="4.5" height="1.4" fill="#f08020"/>
<text transform="translate(39.5,316.3) scale(0.86,1)" font-size="8.2" fill="#e46c04" text-anchor="end">0</text>
<rect x="43.5" y="296.1" width="4.5" height="1.4" fill="#f08020"/>
<text transform="translate(39.5,299.0) scale(0.86,1)" font-size="8.2" fill="#e46c04" text-anchor="end">90</text>
<rect x="43.5" y="278.7" width="4.5" height="1.4" fill="#f08020"/>
<text transform="translate(39.5,281.6) scale(0.86,1)" font-size="8.2" fill="#e46c04" text-anchor="end">180</text>
<rect x="43.5" y="261.4" width="4.5" height="1.4" fill="#f08020"/>
<text transform="translate(39.5,264.3) scale(0.86,1)" font-size="8.2" fill="#e46c04" text-anchor="end">270</text>
<rect x="43.5" y="244.1" width="4.5" height="1.4" fill="#f08020"/>
<text transform="translate(39.5,247.0) scale(0.86,1)" font-size="8.2" fill="#e46c04" text-anchor="end">360</text>
<rect x="45.5" y="313.6" width="2.5" height="1" fill="#f09040"/>
<rect x="45.5" y="309.3" width="2.5" height="1" fill="#f09040"/>
<rect x="45.5" y="304.9" width="2.5" height="1" fill="#f09040"/>
<rect x="45.5" y="300.6" width="2.5" height="1" fill="#f09040"/>
<rect x="45.5" y="296.3" width="2.5" height="1" fill="#f09040"/>
<rect x="45.5" y="291.9" width="2.5" height="1" fill="#f09040"/>
<rect x="45.5" y="287.6" width="2.5" height="1" fill="#f09040"/>
<rect x="45.5" y="283.3" width="2.5" height="1" fill="#f09040"/>
<rect x="45.5" y="278.9" width="2.5" height="1" fill="#f09040"/>
<rect x="45.5" y="274.6" width="2.5" height="1" fill="#f09040"/>
<rect x="45.5" y="270.3" width="2.5" height="1" fill="#f09040"/>
<rect x="45.5" y="265.9" width="2.5" height="1" fill="#f09040"/>
<rect x="45.5" y="261.6" width="2.5" height="1" fill="#f09040"/>
<rect x="45.5" y="257.3" width="2.5" height="1" fill="#f09040"/>
<rect x="45.5" y="252.9" width="2.5" height="1" fill="#f09040"/>
<rect x="45.5" y="248.6" width="2.5" height="1" fill="#f09040"/>
<rect x="45.5" y="244.3" width="2.5" height="1" fill="#f09040"/>
</g>
<text x="562" y="248.9" font-size="11.3" fill="#dc6c10" text-anchor="middle">N</text>
<text x="562" y="266.2" font-size="11.3" fill="#dc6c10" text-anchor="middle">W</text>
<text x="562" y="283.5" font-size="11.3" fill="#dc6c10" text-anchor="middle">S</text>
<text x="562" y="300.9" font-size="11.3" fill="#dc6c10" text-anchor="middle">E</text>
<text x="562" y="318.2" font-size="11.3" fill="#dc6c10" text-anchor="middle">N</text>
<rect x="51" y="340" width="505" height="200" fill="url(#gt)"/>
<rect x="51" y="340" width="505" height="1" fill="#cfcfcf"/>
<line x1="53" x2="554" y1="535.5" y2="535.5" stroke="#cecece" stroke-width="1" stroke-dasharray="1,1.5"/>
<line x1="53" x2="554" y1="516.3" y2="516.3" stroke="#cecece" stroke-width="1" stroke-dasharray="1,1.5"/>
<line x1="53" x2="554" y1="497.1" y2="497.1" stroke="#cecece" stroke-width="1" stroke-dasharray="1,1.5"/>
<line x1="53" x2="554" y1="477.9" y2="477.9" stroke="#cecece" stroke-width="1" stroke-dasharray="1,1.5"/>
<line x1="53" x2="554" y1="458.7" y2="458.7" stroke="#cecece" stroke-width="1" stroke-dasharray="1,1.5"/>
<line x1="53" x2="554" y1="439.5" y2="439.5" stroke="#cecece" stroke-width="1" stroke-dasharray="1,1.5"/>
<line x1="53" x2="554" y1="420.3" y2="420.3" stroke="#cecece" stroke-width="1" stroke-dasharray="1,1.5"/>
<line x1="53" x2="554" y1="401.1" y2="401.1" stroke="#cecece" stroke-width="1" stroke-dasharray="1,1.5"/>
<line x1="53" x2="554" y1="381.9" y2="381.9" stroke="#cecece" stroke-width="1" stroke-dasharray="1,1.5"/>
<line x1="53" x2="554" y1="362.7" y2="362.7" stroke="#cecece" stroke-width="1" stroke-dasharray="1,1.5"/>
<line x1="53" x2="554" y1="343.5" y2="343.5" stroke="#cecece" stroke-width="1" stroke-dasharray="1,1.5"/>
<line x1="92.3" x2="92.3" y1="341" y2="538" stroke="#d6d6d6" stroke-width="1" stroke-dasharray="1,2"/>
<line x1="133.9" x2="133.9" y1="341" y2="538" stroke="#d6d6d6" stroke-width="1" stroke-dasharray="1,2"/>
<line x1="175.6" x2="175.6" y1="341" y2="538" stroke="#d6d6d6" stroke-width="1" stroke-dasharray="1,2"/>
<line x1="217.2" x2="217.2" y1="341" y2="538" stroke="#d6d6d6" stroke-width="1" stroke-dasharray="1,2"/>
<line x1="258.9" x2="258.9" y1="341" y2="538" stroke="#d6d6d6" stroke-width="1" stroke-dasharray="1,2"/>
<line x1="300.6" x2="300.6" y1="341" y2="538" stroke="#d6d6d6" stroke-width="1" stroke-dasharray="1,2"/>
<line x1="342.2" x2="342.2" y1="341" y2="538" stroke="#d6d6d6" stroke-width="1" stroke-dasharray="1,2"/>
<line x1="383.9" x2="383.9" y1="341" y2="538" stroke="#d6d6d6" stroke-width="1" stroke-dasharray="1,2"/>
<line x1="425.5" x2="425.5" y1="341" y2="538" stroke="#d6d6d6" stroke-width="1" stroke-dasharray="1,2"/>
<line x1="467.2" x2="467.2" y1="341" y2="538" stroke="#d6d6d6" stroke-width="1" stroke-dasharray="1,2"/>
<line x1="508.9" x2="508.9" y1="341" y2="538" stroke="#d6d6d6" stroke-width="1" stroke-dasharray="1,2"/>
<line x1="550.5" x2="550.5" y1="341" y2="538" stroke="#d6d6d6" stroke-width="1" stroke-dasharray="1,2"/>
<rect x="51" y="340" width="2.4" height="200" fill="#a6a6a6"/>
<rect x="553.8" y="340" width="2.2" height="200" fill="#a6a6a6"/>
<rect x="51" y="538.0" width="505" height="2.0" fill="#bcbcbc"/>
<path d="M213.7,534.5 L220.0,533.0 L225.0,531.8 L232.0,529.5 L237.0,526.5 L245.0,526.5 L247.0,529.4 L248.5,524.5 L252.0,523.0 L255.0,521.5 L259.0,519.6 L261.0,522.5 L275.0,522.5 L280.0,521.5 L285.0,520.0 L288.0,515.6 L289.5,510.7 L291.0,516.5 L293.0,517.0 L296.0,516.0 L297.5,512.0 L298.5,506.8 L299.5,513.0 L300.5,515.0 L301.7,507.0 L302.4,501.8 L303.2,508.0 L304.0,513.0 L306.0,511.0 L307.5,504.2 L308.4,508.0 L309.5,504.8 L310.3,508.0 L311.0,506.8 L315.0,506.8 L316.0,509.7 L318.0,514.0 L319.5,511.7 L320.5,516.0 L321.0,518.0 L325.0,522.0 L330.0,524.5 L335.0,526.0 L340.0,527.5 L345.0,528.5 L350.0,530.0 L360.0,531.5 L370.0,533.0 L376.0,534.5 Z" fill="url(#gs)" stroke="#ffb648" stroke-width="0.8"/>
<polyline points="248.0,534.5 248.0,525.0 253.0,524.0 258.0,523.0 260.0,522.5 280.0,522.5 285.0,521.0 288.0,519.0 290.0,517.6 293.0,518.5 295.0,519.0 298.0,518.0 300.0,516.6 303.0,516.0 305.0,516.5 315.0,515.6 318.0,517.0 322.0,519.5 325.0,521.5 330.0,524.0 331.0,527.0 331.3,534.5 333.0,534.5 333.3,526.0 334.5,525.5 335.5,528.0 336.5,525.5 337.5,526.0 338.0,534.5" fill="none" stroke="#f47ca4" stroke-width="1.3" stroke-linejoin="round" />
<line x1="200.8" x2="200.8" y1="518.6" y2="536" stroke="#f8ac88" stroke-width="1.3"/>
<line x1="385" x2="385" y1="518" y2="538" stroke="#f8b090" stroke-width="1.5"/>
<rect x="53" y="535.6" width="501" height="1.8" fill="#ffd070"/>
<text x="349.5" y="537.6" font-size="10.4" fill="#f09898" textLength="42.5" lengthAdjust="spacingAndGlyphs">Moon Rise</text>
<rect x="53" y="533.8" width="501" height="2" fill="#5a32d0"/>
<polyline points="54.0,356.0 56.0,355.0 80.0,355.0 81.0,353.8 84.0,354.2 86.0,353.4 88.0,354.2 90.0,353.4 92.0,355.0 108.0,355.0 112.0,357.0 116.0,358.8 120.0,359.9 124.0,359.9 127.0,361.4 133.0,361.4 134.0,359.6 137.0,359.6 138.0,361.4 153.0,361.4 154.0,359.6 156.0,359.6 157.0,361.4 171.0,361.4 172.0,360.3 182.0,360.3 183.0,361.8 192.0,361.8 193.0,360.3 212.0,360.3 213.0,358.2 226.0,358.2 227.0,360.3 239.0,360.3 240.0,361.8 251.0,361.8 252.0,363.5 265.0,363.5 266.0,365.6 269.0,365.6 270.0,367.8 276.0,367.8 278.0,366.0 282.0,365.0 287.0,365.0 288.0,366.0 296.0,366.3 298.0,368.8 305.0,369.0 306.0,370.0 308.0,372.0 310.0,373.0 313.0,374.2 316.0,374.2 317.0,375.2 318.0,373.5 322.0,373.5 325.0,372.0 328.0,370.5 330.0,371.2 332.0,370.0 337.0,370.0 338.0,368.4 340.0,367.8 362.0,367.8 364.0,366.3 369.0,366.0 370.0,364.0 380.0,364.0 381.0,362.0 391.0,362.0 392.0,360.3 433.0,360.3 434.0,361.6 435.0,360.3 444.0,360.3 445.0,359.5 447.0,361.8 490.0,361.8 491.0,360.3 499.0,360.3 500.0,358.2 514.0,358.2 515.0,357.0 516.0,358.2 520.0,358.2 521.0,359.9 548.0,359.9 549.0,358.2 553.5,358.2" fill="none" stroke="#30d430" stroke-width="1.9" stroke-linejoin="round" />
<polyline points="54.0,397.7 165.0,397.7 168.0,398.8 280.0,398.8 281.0,397.7 317.0,397.7 318.0,396.6 341.0,396.6 342.0,396.0 502.0,396.0 503.0,397.0 553.5,397.0" fill="none" stroke="#f8c4a8" stroke-width="1.6" stroke-linejoin="round" />
<polyline points="54.0,421.6 54.8,420.1 55.6,418.4 56.4,420.2 57.2,420.4 58.0,419.3 58.8,418.3 59.6,418.6 60.4,419.2 61.2,420.5 62.0,420.6 62.8,422.4 63.6,420.7 64.4,421.2 65.2,420.6 66.0,423.5 66.8,418.2 67.6,419.2 68.4,421.3 69.2,418.2 70.0,420.7 70.8,422.1 71.6,418.2 72.4,420.4 73.2,417.3 74.0,418.6 74.8,418.1 75.6,420.3 76.4,422.8 77.2,421.9 78.0,420.8 78.8,419.9 79.6,421.6 80.4,421.4 81.2,421.2 82.0,419.0 82.8,421.0 83.6,419.8 84.4,420.4 85.2,420.0 86.0,421.5 86.8,419.7 87.6,420.0 88.4,420.1 89.2,418.6 90.0,421.4 90.8,420.7 91.6,418.7 92.4,420.0 93.2,421.3 94.0,421.0 94.8,420.3 95.6,418.0 96.4,418.3 97.2,420.9 98.0,421.9 98.8,421.0 99.6,418.6 100.4,420.2 101.2,419.7 102.0,417.7 102.8,418.5 103.6,419.9 104.4,420.4 105.2,416.8 106.0,419.3 106.8,419.6 107.6,421.0 108.4,419.3 109.2,422.7 110.0,421.0 110.8,420.6 111.6,419.9 112.4,419.4 113.2,423.5 114.0,420.1 114.8,418.5 115.6,420.9 116.4,420.3 117.2,422.5 118.0,420.1 118.8,418.5 119.6,420.3 120.4,420.6 121.2,421.5 122.0,419.7 122.8,423.5 123.6,417.7 124.4,419.3 125.2,421.3 126.0,420.3 126.8,422.4 127.6,420.1 128.4,421.2 129.2,417.8 130.0,421.6 130.8,420.8 131.6,419.9 132.4,423.6 133.2,420.9 134.0,421.0 134.8,422.4 135.6,420.9 136.4,422.6 137.2,417.7 138.0,418.8 138.8,420.8 139.6,422.1 140.4,419.7 141.2,418.0 142.0,421.0 142.8,422.0 143.6,421.0 144.4,418.8 145.2,419.4 146.0,419.3 146.8,418.9 147.6,422.4 148.4,420.5 149.2,423.2 150.0,417.6 150.8,418.6 151.6,423.0 152.4,418.3 153.2,420.3 154.0,422.4 154.8,421.3 155.6,418.4 156.4,419.7 157.2,417.6 158.0,419.1 158.8,420.2 159.6,419.9 160.4,417.8 161.2,418.3 162.0,419.0 162.8,420.3 163.6,425.1 164.4,421.9 165.2,418.1 166.0,420.5 166.8,418.8 167.6,420.0 168.4,418.9 169.2,418.6 170.0,420.3 170.8,423.3 171.6,420.9 172.4,419.6 173.2,421.6 174.0,423.1 174.8,419.0 175.6,419.8 176.4,420.7 177.2,419.9 178.0,419.8 178.8,419.4 179.6,424.4 180.4,418.1 181.2,422.6 182.0,421.0 182.8,416.9 183.6,421.9 184.4,420.3 185.2,419.0 186.0,421.3 186.8,418.9 187.6,421.2 188.4,419.4 189.2,422.3 190.0,420.5 190.8,420.1 191.6,420.0 192.4,419.9 193.2,422.0 194.0,420.6 194.8,420.2 195.6,423.0 196.4,421.0 197.2,419.5 198.0,421.3 198.8,418.7 199.6,422.6 200.4,420.0 201.2,419.0 202.0,419.2 202.8,420.0 203.6,419.3 204.4,423.5 205.2,421.5 206.0,419.4 206.8,420.8 207.6,417.5 208.4,421.1 209.2,420.2 210.0,421.5 210.8,419.5 211.6,418.7 212.4,422.7 213.2,423.8 214.0,421.1 214.8,422.8 215.6,420.7 216.4,421.4 217.2,421.2 218.0,418.5 218.8,418.6 219.6,420.9 220.4,420.4 221.2,417.7 222.0,418.5 222.8,419.3 223.6,420.3 224.4,424.1 225.2,419.7 226.0,420.6 226.8,419.3 227.6,419.4 228.4,417.0 229.2,419.3 230.0,424.1 230.8,419.6 231.6,423.2 232.4,418.6 233.2,420.8 234.0,419.2 234.8,422.5 235.6,418.1 236.4,416.1 237.2,419.0 238.0,420.2 238.8,419.1 239.6,418.6 240.4,424.3 241.2,421.0 242.0,416.2 242.8,420.8 243.6,420.2 244.4,417.3 245.2,421.6 246.0,419.3 246.8,422.5 247.6,421.5 248.4,424.1 249.2,417.7 250.0,421.8 250.8,420.8 251.6,417.2 252.4,418.0 253.2,419.5 254.0,418.7 254.8,422.7 255.6,421.8 256.4,419.5 257.2,424.3 258.0,420.4 258.8,422.5 259.6,419.0 260.4,419.3 261.2,416.8 262.0,421.5 262.8,418.3 263.6,424.2 264.4,419.2 265.2,419.2 266.0,421.2 266.8,421.4 267.6,420.8 268.4,416.6 269.2,419.2 270.0,422.1 270.8,423.5 271.6,419.3 272.4,422.3 273.2,419.7 274.0,423.0 274.8,418.2 275.6,419.2 276.4,420.4 277.2,420.5 278.0,421.2 278.8,419.9 279.6,422.1 280.4,420.4 281.2,420.1 282.0,421.4 282.8,418.1 283.6,419.5 284.4,421.7 285.2,419.4 286.0,421.4 286.8,420.7 287.6,421.0 288.4,420.7 289.2,416.9 290.0,420.3 290.8,420.6 291.6,418.9 292.4,420.0 293.2,421.0 294.0,419.7 294.8,420.5 295.6,419.0 296.4,419.0 297.2,418.0 298.0,419.5 298.8,419.3 299.6,421.3 300.4,417.1 301.2,417.8 302.0,414.7 302.8,413.5 303.6,413.6 304.4,413.2 305.2,412.8 306.0,411.9 306.8,412.0 307.6,414.1 308.4,411.6 309.2,412.4 310.0,414.8 310.8,408.8 311.6,413.4 312.4,412.8 313.2,413.9 314.0,413.0 314.8,411.6 315.6,410.0 316.4,413.0 317.2,413.1 318.0,412.4 318.8,415.2 319.6,413.1 320.4,412.5 321.2,413.4 322.0,418.1 322.8,420.6 323.6,413.2 324.4,416.5 325.2,419.1 326.0,416.4 326.8,414.1 327.6,417.7 328.4,416.1 329.2,416.6 330.0,415.5 330.8,418.4 331.6,417.3 332.4,416.6 333.2,420.0 334.0,415.4 334.8,416.9 335.6,415.3 336.4,417.1 337.2,417.7 338.0,413.5 338.8,419.7 339.6,415.3 340.4,414.1 341.2,416.9 342.0,417.2 342.8,415.6 343.6,416.2 344.4,414.0 345.2,418.5 346.0,417.7 346.8,415.6 347.6,415.5 348.4,416.3 349.2,417.0 350.0,418.3 350.8,416.5 351.6,418.0 352.4,414.4 353.2,417.1 354.0,416.5 354.8,414.5 355.6,415.9 356.4,418.3 357.2,419.4 358.0,417.6 358.8,420.6 359.6,413.2 360.4,415.7 361.2,415.7 362.0,417.0 362.8,416.7 363.6,416.7 364.4,417.5 365.2,415.9 366.0,417.8 366.8,415.8 367.6,415.7 368.4,416.2 369.2,416.4 370.0,416.9 370.8,418.0 371.6,418.0 372.4,417.0 373.2,417.6 374.0,417.1 374.8,417.0 375.6,418.0 376.4,415.9 377.2,417.6 378.0,415.8 378.8,417.0 379.6,420.6 380.4,421.2 381.2,417.9 382.0,417.1 382.8,414.4 383.6,418.4 384.4,419.0 385.2,419.8 386.0,417.7 386.8,416.5 387.6,421.1 388.4,421.7 389.2,419.2 390.0,419.8 390.8,419.6 391.6,420.4 392.4,422.8 393.2,424.8 394.0,420.2 394.8,422.1 395.6,419.1 396.4,425.0 397.2,416.5 398.0,420.2 398.8,423.7 399.6,423.6 400.4,418.5 401.2,419.8 402.0,419.4 402.8,422.6 403.6,423.4 404.4,421.0 405.2,421.8 406.0,422.4 406.8,421.0 407.6,421.2 408.4,420.5 409.2,421.6 410.0,423.2 410.8,423.1 411.6,418.1 412.4,419.9 413.2,418.6 414.0,421.1 414.8,421.6 415.6,418.3 416.4,424.5 417.2,419.3 418.0,421.1 418.8,420.7 419.6,419.5 420.4,419.5 421.2,420.4 422.0,420.4 422.8,420.0 423.6,422.4 424.4,418.6 425.2,423.5 426.0,420.1 426.8,421.4 427.6,423.3 428.4,420.2 429.2,422.1 430.0,421.6 430.8,423.0 431.6,422.6 432.4,420.7 433.2,422.7 434.0,421.2 434.8,419.2 435.6,422.0 436.4,418.2 437.2,418.4 438.0,424.8 438.8,417.8 439.6,420.6 440.4,424.0 441.2,420.8 442.0,420.7 442.8,420.8 443.6,420.6 444.4,418.5 445.2,420.2 446.0,422.0 446.8,422.4 447.6,420.1 448.4,422.2 449.2,423.0 450.0,423.6 450.8,417.0 451.6,422.2 452.4,422.4 453.2,423.4 454.0,421.9 454.8,419.8 455.6,420.9 456.4,422.7 457.2,419.9 458.0,420.9 458.8,421.4 459.6,418.8 460.4,420.7 461.2,420.2 462.0,420.4 462.8,422.0 463.6,419.6 464.4,422.5 465.2,417.8 466.0,419.7 466.8,421.2 467.6,421.3 468.4,418.4 469.2,420.7 470.0,425.2 470.8,424.9 471.6,421.5 472.4,420.2 473.2,419.1 474.0,418.6 474.8,418.4 475.6,418.7 476.4,420.9 477.2,423.4 478.0,422.0 478.8,420.6 479.6,416.4 480.4,422.3 481.2,421.0 482.0,422.2 482.8,421.1 483.6,422.4 484.4,418.7 485.2,417.9 486.0,421.1 486.8,422.9 487.6,419.7 488.4,422.5 489.2,418.8 490.0,421.4 490.8,422.2 491.6,422.3 492.4,423.3 493.2,420.8 494.0,423.6 494.8,422.2 495.6,418.3 496.4,419.5 497.2,422.0 498.0,423.1 498.8,420.9 499.6,420.4 500.4,421.3 501.2,419.3 502.0,421.0 502.8,424.0 503.6,422.4 504.4,420.2 505.2,421.2 506.0,420.1 506.8,421.4 507.6,424.2 508.4,421.7 509.2,422.2 510.0,423.0 510.8,424.2 511.6,419.9 512.4,418.0 513.2,421.4 514.0,419.8 514.8,420.5 515.6,421.0 516.4,421.4 517.2,418.2 518.0,418.1 518.8,417.3 519.6,423.1 520.4,416.9 521.2,420.1 522.0,419.7 522.8,422.1 523.6,423.9 524.4,420.6 525.2,420.0 526.0,421.2 526.8,419.0 527.6,419.1 528.4,421.6 529.2,421.5 530.0,419.9 530.8,419.0 531.6,422.1 532.4,421.2 533.2,424.5 534.0,419.6 534.8,421.8 535.6,422.4 536.4,421.6 537.2,420.9 538.0,423.1 538.8,424.7 539.6,421.9 540.4,418.3 541.2,420.5 542.0,420.5 542.8,422.9 543.6,421.8 544.4,424.3 545.2,418.5 546.0,418.5 546.8,421.9 547.6,427.0 548.4,422.8 549.2,418.9 550.0,420.2 550.8,419.7 551.6,420.4 552.4,420.1 553.2,420.6" fill="none" stroke="#b0b0fa" stroke-width="1.7" stroke-linejoin="round" />
<polyline points="54.0,417.0 55.5,417.0 57.0,417.0 58.5,417.3 60.0,417.0 61.5,416.7 63.0,416.7 64.5,416.7 66.0,417.0 67.5,417.0 69.0,417.0 70.5,416.7 72.0,417.0 73.5,417.0 75.0,417.0 76.5,417.0 78.0,417.3 79.5,417.0 81.0,417.0 82.5,416.7 84.0,416.7 85.5,416.7 87.0,417.3 88.5,416.7 90.0,417.0 91.5,417.0 93.0,417.0 94.5,416.7 96.0,417.0 97.5,417.0 99.0,417.0 100.5,417.0 102.0,417.0 103.5,417.3 105.0,417.0 106.5,417.3 108.0,417.0 109.5,417.3 111.0,417.0 112.5,416.7 114.0,417.3 115.5,417.0 117.0,416.7 118.5,417.0 120.0,417.0 121.5,417.0 123.0,417.3 124.5,416.7 126.0,417.3 127.5,417.0 129.0,416.7 130.5,417.0 132.0,417.0 133.5,416.7 135.0,417.0 136.5,417.0 138.0,417.0 139.5,417.3 141.0,417.0 142.5,417.3 144.0,417.0 145.5,417.0 147.0,417.0 148.5,416.7 150.0,417.0 151.5,417.0 153.0,417.0 154.5,416.7 156.0,417.3 157.5,416.7 159.0,417.0 160.5,417.0 162.0,416.7 163.5,417.0 165.0,417.0 166.5,417.0 168.0,417.6 169.5,417.9 171.0,417.9 172.5,418.4 174.0,418.8 175.5,419.0 177.0,419.1 178.5,418.9 180.0,419.3 181.5,419.2 183.0,418.9 184.5,418.8 186.0,418.4 187.5,418.3 189.0,418.2 190.5,418.5 192.0,418.4 193.5,418.3 195.0,418.2 196.5,418.2 198.0,418.1 199.5,418.3 201.0,417.9 202.5,417.4 204.0,417.2 205.5,417.7 207.0,417.4 208.5,417.4 210.0,417.1 211.5,417.1 213.0,417.7 214.5,417.4 216.0,417.1 217.5,417.4 219.0,417.4 220.5,417.4 222.0,417.1 223.5,417.1 225.0,417.4 226.5,417.4 228.0,417.4 229.5,417.4 231.0,417.4 232.5,417.4 234.0,417.7 235.5,417.4 237.0,417.4 238.5,417.4 240.0,417.7 241.5,417.7 243.0,417.4 244.5,417.7 246.0,417.1 247.5,417.7 249.0,417.4 250.5,417.1 252.0,417.1 253.5,417.4 255.0,417.4 256.5,417.4 258.0,417.4 259.5,417.1 261.0,417.4 262.5,417.4 264.0,417.7 265.5,417.4 267.0,417.4 268.5,417.1 270.0,417.4 271.5,417.4 273.0,417.4 274.5,417.4 276.0,417.4 277.5,417.7 279.0,417.4 280.5,417.7 282.0,417.7 283.5,417.1 285.0,417.4 286.5,417.7 288.0,417.4 289.5,417.1 291.0,417.7 292.5,417.4 294.0,417.7 295.5,417.7 297.0,417.4 298.5,417.6 300.0,417.0 301.5,416.7 303.0,416.3 304.5,416.3 306.0,416.6 307.5,416.6 309.0,416.9 310.5,416.9 312.0,416.6 313.5,416.3 315.0,416.9 316.5,416.5 318.0,417.1 319.5,417.0 321.0,417.8 322.5,418.1 324.0,417.7 325.5,418.2 327.0,418.8 328.5,418.3 330.0,418.9 331.5,418.6 333.0,418.3 334.5,418.9 336.0,418.9 337.5,418.3 339.0,418.9 340.5,418.6 342.0,419.0 343.5,418.7 345.0,418.8 346.5,418.6 348.0,419.2 349.5,419.3 351.0,419.0 352.5,419.3 354.0,419.1 355.5,419.4 357.0,419.4 358.5,418.8 360.0,419.2 361.5,418.9 363.0,419.5 364.5,419.2 366.0,419.6 367.5,419.6 369.0,419.0 370.5,419.3 372.0,419.4 373.5,419.1 375.0,419.4 376.5,419.7 378.0,419.5 379.5,419.8 381.0,419.2 382.5,419.6 384.0,419.7 385.5,420.1 387.0,419.6 388.5,419.6 390.0,420.3 391.5,419.7 393.0,420.0 394.5,420.3 396.0,420.0 397.5,420.0 399.0,420.0 400.5,420.3 402.0,420.3 403.5,420.0 405.0,420.0 406.5,420.3 408.0,420.0 409.5,420.0 411.0,420.0 412.5,419.7 414.0,419.7 415.5,420.0 417.0,420.0 418.5,420.3 420.0,420.0 421.5,420.0 423.0,420.3 424.5,419.7 426.0,419.7 427.5,420.3 429.0,420.0 430.5,419.7 432.0,419.7 433.5,420.0 435.0,419.7 436.5,420.0 438.0,420.3 439.5,420.0 441.0,420.3 442.5,420.3 444.0,420.0 445.5,420.0 447.0,420.0 448.5,420.0 450.0,420.0 451.5,420.0 453.0,420.3 454.5,420.0 456.0,420.0 457.5,420.0 459.0,420.0 460.5,419.7 462.0,420.3 463.5,420.0 465.0,420.0 466.5,420.3 468.0,420.0 469.5,419.7 471.0,420.0 472.5,420.0 474.0,420.0 475.5,419.7 477.0,420.3 478.5,419.7 480.0,420.3 481.5,420.0 483.0,420.0 484.5,420.0 486.0,420.3 487.5,419.7 489.0,420.0 490.5,419.7 492.0,420.0 493.5,420.3 495.0,420.0 496.5,419.7 498.0,420.0 499.5,420.3 501.0,420.5 502.5,420.3 504.0,420.7 505.5,420.9 507.0,421.2 508.5,421.2 510.0,420.9 511.5,420.9 513.0,421.2 514.5,421.2 516.0,420.7 517.5,420.3 519.0,420.2 520.5,420.0 522.0,420.3 523.5,419.7 525.0,420.0 526.5,420.4 528.0,419.8 529.5,420.1 531.0,420.1 532.5,420.1 534.0,420.1 535.5,420.1 537.0,420.2 538.5,420.5 540.0,420.2 541.5,419.9 543.0,419.9 544.5,419.9 546.0,420.5 547.5,420.5 549.0,420.6 550.5,420.3 552.0,420.3 553.5,420.0" fill="none" stroke="#22e8ff" stroke-width="1.9" stroke-linejoin="round" />
<polyline points="54.0,414.1 69.0,414.1 70.0,413.3 74.0,413.3 76.0,415.0 92.0,415.0 95.0,414.0 108.0,414.0 110.0,413.3 130.0,413.3 135.0,412.0 147.0,412.0 150.0,413.3 170.0,413.3 172.0,414.0 180.0,413.9 200.0,413.7 202.0,412.6 204.0,412.6 205.0,413.7 225.0,413.7 227.0,412.6 240.0,412.6 245.0,411.6 255.0,411.2 258.0,410.5 275.0,410.5 278.0,411.8 285.0,411.8 290.0,410.5 298.0,409.4 305.0,408.4 310.0,407.0 320.0,407.0 325.0,409.0 330.0,410.0 345.0,410.0 350.0,411.6 360.0,411.6 365.0,412.6 378.0,412.6 382.0,413.7 388.0,414.8 478.0,414.8 480.0,413.9 488.0,413.9 492.0,415.0 500.0,415.0 505.0,416.3 510.0,417.0 515.0,416.0 520.0,415.2 527.0,415.2 530.0,414.8 537.0,414.8 540.0,416.0 553.5,416.2" fill="none" stroke="#f03434" stroke-width="1.8" stroke-linejoin="round" />
<g clip-path="url(#cb)">
<rect x="23" y="340" width="2.4" height="197.5" fill="#20d820"/>
<rect x="18.5" y="533.8" width="5" height="1.4" fill="#30d830"/>
<text transform="translate(15.3,537.1) scale(0.86,1)" font-size="8.2" fill="#20c820" text-anchor="end">0</text>
<rect x="18.5" y="514.6" width="5" height="1.4" fill="#30d830"/>
<text transform="translate(15.3,517.9) scale(0.86,1)" font-size="8.2" fill="#20c820" text-anchor="end">10</text>
<rect x="18.5" y="495.4" width="5" height="1.4" fill="#30d830"/>
<text transform="translate(15.3,498.7) scale(0.86,1)" font-size="8.2" fill="#20c820" text-anchor="end">20</text>
<rect x="18.5" y="476.2" width="5" height="1.4" fill="#30d830"/>
<text transform="translate(15.3,479.5) scale(0.86,1)" font-size="8.2" fill="#20c820" text-anchor="end">30</text>
<rect x="18.5" y="457.0" width="5" height="1.4" fill="#30d830"/>
<text transform="translate(15.3,460.3) scale(0.86,1)" font-size="8.2" fill="#20c820" text-anchor="end">40</text>
<rect x="18.5" y="437.8" width="5" height="1.4" fill="#30d830"/>
<text transform="translate(15.3,441.1) scale(0.86,1)" font-size="8.2" fill="#20c820" text-anchor="end">50</text>
<rect x="18.5" y="418.6" width="5" height="1.4" fill="#30d830"/>
<text transform="translate(15.3,421.9) scale(0.86,1)" font-size="8.2" fill="#20c820" text-anchor="end">60</text>
<rect x="18.5" y="399.4" width="5" height="1.4" fill="#30d830"/>
<text transform="translate(15.3,402.7) scale(0.86,1)" font-size="8.2" fill="#20c820" text-anchor="end">70</text>
<rect x="18.5" y="380.2" width="5" height="1.4" fill="#30d830"/>
<text transform="translate(15.3,383.5) scale(0.86,1)" font-size="8.2" fill="#20c820" text-anchor="end">80</text>
<rect x="18.5" y="361.0" width="5" height="1.4" fill="#30d830"/>
<text transform="translate(15.3,364.3) scale(0.86,1)" font-size="8.2" fill="#20c820" text-anchor="end">90</text>
<rect x="18.5" y="341.8" width="5" height="1.4" fill="#30d830"/>
<text transform="translate(15.3,345.1) scale(0.86,1)" font-size="8.2" fill="#20c820" text-anchor="end">100</text>
<rect x="20.5" y="534.0" width="3" height="1" fill="#40e040"/>
<rect x="20.5" y="529.2" width="3" height="1" fill="#40e040"/>
<rect x="20.5" y="524.4" width="3" height="1" fill="#40e040"/>
<rect x="20.5" y="519.6" width="3" height="1" fill="#40e040"/>
<rect x="20.5" y="514.8" width="3" height="1" fill="#40e040"/>
<rect x="20.5" y="510.0" width="3" height="1" fill="#40e040"/>
<rect x="20.5" y="505.2" width="3" height="1" fill="#40e040"/>
<rect x="20.5" y="500.4" width="3" height="1" fill="#40e040"/>
<rect x="20.5" y="495.6" width="3" height="1" fill="#40e040"/>
<rect x="20.5" y="490.8" width="3" height="1" fill="#40e040"/>
<rect x="20.5" y="486.0" width="3" height="1" fill="#40e040"/>
<rect x="20.5" y="481.2" width="3" height="1" fill="#40e040"/>
<rect x="20.5" y="476.4" width="3" height="1" fill="#40e040"/>
<rect x="20.5" y="471.6" width="3" height="1" fill="#40e040"/>
<rect x="20.5" y="466.8" width="3" height="1" fill="#40e040"/>
<rect x="20.5" y="462.0" width="3" height="1" fill="#40e040"/>
<rect x="20.5" y="457.2" width="3" height="1" fill="#40e040"/>
<rect x="20.5" y="452.4" width="3" height="1" fill="#40e040"/>
<rect x="20.5" y="447.6" width="3" height="1" fill="#40e040"/>
<rect x="20.5" y="442.8" width="3" height="1" fill="#40e040"/>
<rect x="20.5" y="438.0" width="3" height="1" fill="#40e040"/>
<rect x="20.5" y="433.2" width="3" height="1" fill="#40e040"/>
<rect x="20.5" y="428.4" width="3" height="1" fill="#40e040"/>
<rect x="20.5" y="423.6" width="3" height="1" fill="#40e040"/>
<rect x="20.5" y="418.8" width="3" height="1" fill="#40e040"/>
<rect x="20.5" y="414.0" width="3" height="1" fill="#40e040"/>
<rect x="20.5" y="409.2" width="3" height="1" fill="#40e040"/>
<rect x="20.5" y="404.4" width="3" height="1" fill="#40e040"/>
<rect x="20.5" y="399.6" width="3" height="1" fill="#40e040"/>
<rect x="20.5" y="394.8" width="3" height="1" fill="#40e040"/>
<rect x="20.5" y="390.0" width="3" height="1" fill="#40e040"/>
<rect x="20.5" y="385.2" width="3" height="1" fill="#40e040"/>
<rect x="20.5" y="380.4" width="3" height="1" fill="#40e040"/>
<rect x="20.5" y="375.6" width="3" height="1" fill="#40e040"/>
<rect x="20.5" y="370.8" width="3" height="1" fill="#40e040"/>
<rect x="20.5" y="366.0" width="3" height="1" fill="#40e040"/>
<rect x="20.5" y="361.2" width="3" height="1" fill="#40e040"/>
<rect x="20.5" y="356.4" width="3" height="1" fill="#40e040"/>
<rect x="20.5" y="351.6" width="3" height="1" fill="#40e040"/>
<rect x="20.5" y="346.8" width="3" height="1" fill="#40e040"/>
<rect x="20.5" y="342.0" width="3" height="1" fill="#40e040"/>
<rect x="46.5" y="533.5" width="4.5" height="1.4" fill="#6060f0"/>
<text transform="translate(43,536.9) scale(0.86,1)" font-size="8.2" fill="#2828e0" text-anchor="end">0</text>
<rect x="46.5" y="501.6" width="4.5" height="1.4" fill="#6060f0"/>
<text transform="translate(43,505.0) scale(0.86,1)" font-size="8.2" fill="#2828e0" text-anchor="end">5</text>
<rect x="46.5" y="469.7" width="4.5" height="1.4" fill="#6060f0"/>
<text transform="translate(43,473.1) scale(0.86,1)" font-size="8.2" fill="#2828e0" text-anchor="end">10</text>
<rect x="46.5" y="437.7" width="4.5" height="1.4" fill="#6060f0"/>
<text transform="translate(43,441.1) scale(0.86,1)" font-size="8.2" fill="#2828e0" text-anchor="end">15</text>
<rect x="46.5" y="405.8" width="4.5" height="1.4" fill="#6060f0"/>
<text transform="translate(43,409.2) scale(0.86,1)" font-size="8.2" fill="#2828e0" text-anchor="end">20</text>
<rect x="46.5" y="373.9" width="4.5" height="1.4" fill="#6060f0"/>
<text transform="translate(43,377.3) scale(0.86,1)" font-size="8.2" fill="#2828e0" text-anchor="end">25</text>
<rect x="46.5" y="342.0" width="4.5" height="1.4" fill="#6060f0"/>
<text transform="translate(43,345.4) scale(0.86,1)" font-size="8.2" fill="#2828e0" text-anchor="end">30</text>
<rect x="48.5" y="533.7" width="2.5" height="1" fill="#7878f0"/>
<rect x="48.5" y="525.7" width="2.5" height="1" fill="#7878f0"/>
<rect x="48.5" y="517.7" width="2.5" height="1" fill="#7878f0"/>
<rect x="48.5" y="509.8" width="2.5" height="1" fill="#7878f0"/>
<rect x="48.5" y="501.8" width="2.5" height="1" fill="#7878f0"/>
<rect x="48.5" y="493.8" width="2.5" height="1" fill="#7878f0"/>
<rect x="48.5" y="485.8" width="2.5" height="1" fill="#7878f0"/>
<rect x="48.5" y="477.8" width="2.5" height="1" fill="#7878f0"/>
<rect x="48.5" y="469.9" width="2.5" height="1" fill="#7878f0"/>
<rect x="48.5" y="461.9" width="2.5" height="1" fill="#7878f0"/>
<rect x="48.5" y="453.9" width="2.5" height="1" fill="#7878f0"/>
<rect x="48.5" y="445.9" width="2.5" height="1" fill="#7878f0"/>
<rect x="48.5" y="437.9" width="2.5" height="1" fill="#7878f0"/>
<rect x="48.5" y="429.9" width="2.5" height="1" fill="#7878f0"/>
<rect x="48.5" y="422.0" width="2.5" height="1" fill="#7878f0"/>
<rect x="48.5" y="414.0" width="2.5" height="1" fill="#7878f0"/>
<rect x="48.5" y="406.0" width="2.5" height="1" fill="#7878f0"/>
<rect x="48.5" y="398.0" width="2.5" height="1" fill="#7878f0"/>
<rect x="48.5" y="390.0" width="2.5" height="1" fill="#7878f0"/>
<rect x="48.5" y="382.1" width="2.5" height="1" fill="#7878f0"/>
<rect x="48.5" y="374.1" width="2.5" height="1" fill="#7878f0"/>
<rect x="48.5" y="366.1" width="2.5" height="1" fill="#7878f0"/>
<rect x="48.5" y="358.1" width="2.5" height="1" fill="#7878f0"/>
<rect x="48.5" y="350.1" width="2.5" height="1" fill="#7878f0"/>
<rect x="48.5" y="342.2" width="2.5" height="1" fill="#7878f0"/>
<rect x="555.6" y="533.8" width="4" height="1.4" fill="#f03030"/>
 <text transform="translate(570.2,536.6) scale(0.86,1)" font-size="8.2" fill="#ee1010" text-anchor="end">-20</text>
<rect x="555.6" y="514.6" width="4" height="1.4" fill="#f03030"/>
 <text transform="translate(570.2,517.4) scale(0.86,1)" font-size="8.2" fill="#ee1010" text-anchor="end">-15</text>
<rect x="555.6" y="495.4" width="4" height="1.4" fill="#f03030"/>
 <text transform="translate(570.2,498.2) scale(0.86,1)" font-size="8.2" fill="#ee1010" text-anchor="end">-10</text>
<rect x="555.6" y="476.2" width="4" height="1.4" fill="#f03030"/>
 <text transform="translate(570.2,479.0) scale(0.86,1)" font-size="8.2" fill="#ee1010" text-anchor="end">-5</text>
<rect x="555.6" y="457.0" width="4" height="1.4" fill="#f03030"/>
 <text transform="translate(570.2,459.8) scale(0.86,1)" font-size="8.2" fill="#ee1010" text-anchor="end">0</text>
<rect x="555.6" y="437.8" width="4" height="1.4" fill="#f03030"/>
 <text transform="translate(570.2,440.6) scale(0.86,1)" font-size="8.2" fill="#ee1010" text-anchor="end">5</text>
<rect x="555.6" y="418.6" width="4" height="1.4" fill="#f03030"/>
 <text transform="translate(570.2,421.4) scale(0.86,1)" font-size="8.2" fill="#ee1010" text-anchor="end">10</text>
<rect x="555.6" y="399.4" width="4" height="1.4" fill="#f03030"/>
 <text transform="translate(570.2,402.2) scale(0.86,1)" font-size="8.2" fill="#ee1010" text-anchor="end">15</text>
<rect x="555.6" y="380.2" width="4" height="1.4" fill="#f03030"/>
 <text transform="translate(570.2,383.0) scale(0.86,1)" font-size="8.2" fill="#ee1010" text-anchor="end">20</text>
<rect x="555.6" y="361.0" width="4" height="1.4" fill="#f03030"/>
 <text transform="translate(570.2,363.8) scale(0.86,1)" font-size="8.2" fill="#ee1010" text-anchor="end">25</text>
<rect x="555.6" y="341.8" width="4" height="1.4" fill="#f03030"/>
 <text transform="translate(570.2,344.6) scale(0.86,1)" font-size="8.2" fill="#ee1010" text-anchor="end">30</text>
<rect x="555.6" y="534.0" width="2.0" height="1" fill="#f05050"/>
<rect x="555.6" y="530.2" width="2.0" height="1" fill="#f05050"/>
<rect x="555.6" y="526.3" width="2.0" height="1" fill="#f05050"/>
<rect x="555.6" y="522.5" width="2.0" height="1" fill="#f05050"/>
<rect x="555.6" y="518.6" width="2.0" height="1" fill="#f05050"/>
<rect x="555.6" y="514.8" width="2.0" height="1" fill="#f05050"/>
<rect x="555.6" y="511.0" width="2.0" height="1" fill="#f05050"/>
<rect x="555.6" y="507.1" width="2.0" height="1" fill="#f05050"/>
<rect x="555.6" y="503.3" width="2.0" height="1" fill="#f05050"/>
<rect x="555.6" y="499.4" width="2.0" height="1" fill="#f05050"/>
<rect x="555.6" y="495.6" width="2.0" height="1" fill="#f05050"/>
<rect x="555.6" y="491.8" width="2.0" height="1" fill="#f05050"/>
<rect x="555.6" y="487.9" width="2.0" height="1" fill="#f05050"/>
<rect x="555.6" y="484.1" width="2.0" height="1" fill="#f05050"/>
<rect x="555.6" y="480.2" width="2.0" height="1" fill="#f05050"/>
<rect x="555.6" y="476.4" width="2.0" height="1" fill="#f05050"/>
<rect x="555.6" y="472.6" width="2.0" height="1" fill="#f05050"/>
<rect x="555.6" y="468.7" width="2.0" height="1" fill="#f05050"/>
<rect x="555.6" y="464.9" width="2.0" height="1" fill="#f05050"/>
<rect x="555.6" y="461.0" width="2.0" height="1" fill="#f05050"/>
<rect x="555.6" y="457.2" width="2.0" height="1" fill="#f05050"/>
<rect x="555.6" y="453.4" width="2.0" height="1" fill="#f05050"/>
<rect x="555.6" y="449.5" width="2.0" height="1" fill="#f05050"/>
<rect x="555.6" y="445.7" width="2.0" height="1" fill="#f05050"/>
<rect x="555.6" y="441.8" width="2.0" height="1" fill="#f05050"/>
<rect x="555.6" y="438.0" width="2.0" height="1" fill="#f05050"/>
<rect x="555.6" y="434.2" width="2.0" height="1" fill="#f05050"/>
<rect x="555.6" y="430.3" width="2.0" height="1" fill="#f05050"/>
<rect x="555.6" y="426.5" width="2.0" height="1" fill="#f05050"/>
<rect x="555.6" y="422.6" width="2.0" height="1" fill="#f05050"/>
<rect x="555.6" y="418.8" width="2.0" height="1" fill="#f05050"/>
<rect x="555.6" y="415.0" width="2.0" height="1" fill="#f05050"/>
<rect x="555.6" y="411.1" width="2.0" height="1" fill="#f05050"/>
<rect x="555.6" y="407.3" width="2.0" height="1" fill="#f05050"/>
<rect x="555.6" y="403.4" width="2.0" height="1" fill="#f05050"/>
<rect x="555.6" y="399.6" width="2.0" height="1" fill="#f05050"/>
<rect x="555.6" y="395.8" width="2.0" height="1" fill="#f05050"/>
<rect x="555.6" y="391.9" width="2.0" height="1" fill="#f05050"/>
<rect x="555.6" y="388.1" width="2.0" height="1" fill="#f05050"/>
<rect x="555.6" y="384.2" width="2.0" height="1" fill="#f05050"/>
<rect x="555.6" y="380.4" width="2.0" height="1" fill="#f05050"/>
<rect x="555.6" y="376.6" width="2.0" height="1" fill="#f05050"/>
<rect x="555.6" y="372.7" width="2.0" height="1" fill="#f05050"/>
<rect x="555.6" y="368.9" width="2.0" height="1" fill="#f05050"/>
<rect x="555.6" y="365.0" width="2.0" height="1" fill="#f05050"/>
<rect x="555.6" y="361.2" width="2.0" height="1" fill="#f05050"/>
<rect x="555.6" y="357.4" width="2.0" height="1" fill="#f05050"/>
<rect x="555.6" y="353.5" width="2.0" height="1" fill="#f05050"/>
<rect x="555.6" y="349.7" width="2.0" height="1" fill="#f05050"/>
<rect x="555.6" y="345.8" width="2.0" height="1" fill="#f05050"/>
<rect x="555.6" y="342.0" width="2.0" height="1" fill="#f05050"/>
<rect x="584" y="340" width="2.3" height="197.5" fill="#ff80b4"/>
<rect x="586" y="533.9" width="3" height="1.2" fill="#ff80b4"/>
<text transform="translate(591,536.7) scale(0.86,1)" font-size="8.2" fill="#ff80b4">0</text>
<rect x="586" y="514.7" width="3" height="1.2" fill="#ff80b4"/>
<text transform="translate(591,517.5) scale(0.86,1)" font-size="8.2" fill="#ff80b4">1</text>
<rect x="586" y="495.5" width="3" height="1.2" fill="#ff80b4"/>
<text transform="translate(591,498.3) scale(0.86,1)" font-size="8.2" fill="#ff80b4">2</text>
<rect x="586" y="476.3" width="3" height="1.2" fill="#ff80b4"/>
<text transform="translate(591,479.1) scale(0.86,1)" font-size="8.2" fill="#ff80b4">3</text>
<rect x="586" y="457.1" width="3" height="1.2" fill="#ff80b4"/>
<text transform="translate(591,459.9) scale(0.86,1)" font-size="8.2" fill="#ff80b4">4</text>
<rect x="586" y="437.9" width="3" height="1.2" fill="#ff80b4"/>
<text transform="translate(591,440.7) scale(0.86,1)" font-size="8.2" fill="#ff80b4">5</text>
<rect x="586" y="418.7" width="3" height="1.2" fill="#ff80b4"/>
<text transform="translate(591,421.5) scale(0.86,1)" font-size="8.2" fill="#ff80b4">6</text>
<rect x="586" y="399.5" width="3" height="1.2" fill="#ff80b4"/>
<text transform="translate(591,402.3) scale(0.86,1)" font-size="8.2" fill="#ff80b4">7</text>
<rect x="586" y="380.3" width="3" height="1.2" fill="#ff80b4"/>
<text transform="translate(591,383.1) scale(0.86,1)" font-size="8.2" fill="#ff80b4">8</text>
<rect x="586" y="361.1" width="3" height="1.2" fill="#ff80b4"/>
<text transform="translate(591,363.9) scale(0.86,1)" font-size="8.2" fill="#ff80b4">9</text>
<rect x="586" y="341.9" width="3" height="1.2" fill="#ff80b4"/>
<text transform="translate(591,344.7) scale(0.86,1)" font-size="8.2" fill="#ff80b4">10</text>
<rect x="586" y="534.1" width="2" height="0.8" fill="#ff90bc"/>
<rect x="586" y="529.3" width="2" height="0.8" fill="#ff90bc"/>
<rect x="586" y="524.5" width="2" height="0.8" fill="#ff90bc"/>
<rect x="586" y="519.7" width="2" height="0.8" fill="#ff90bc"/>
<rect x="586" y="514.9" width="2" height="0.8" fill="#ff90bc"/>
<rect x="586" y="510.1" width="2" height="0.8" fill="#ff90bc"/>
<rect x="586" y="505.3" width="2" height="0.8" fill="#ff90bc"/>
<rect x="586" y="500.5" width="2" height="0.8" fill="#ff90bc"/>
<rect x="586" y="495.7" width="2" height="0.8" fill="#ff90bc"/>
<rect x="586" y="490.9" width="2" height="0.8" fill="#ff90bc"/>
<rect x="586" y="486.1" width="2" height="0.8" fill="#ff90bc"/>
<rect x="586" y="481.3" width="2" height="0.8" fill="#ff90bc"/>
<rect x="586" y="476.5" width="2" height="0.8" fill="#ff90bc"/>
<rect x="586" y="471.7" width="2" height="0.8" fill="#ff90bc"/>
<rect x="586" y="466.9" width="2" height="0.8" fill="#ff90bc"/>
<rect x="586" y="462.1" width="2" height="0.8" fill="#ff90bc"/>
<rect x="586" y="457.3" width="2" height="0.8" fill="#ff90bc"/>
<rect x="586" y="452.5" width="2" height="0.8" fill="#ff90bc"/>
<rect x="586" y="447.7" width="2" height="0.8" fill="#ff90bc"/>
<rect x="586" y="442.9" width="2" height="0.8" fill="#ff90bc"/>
<rect x="586" y="438.1" width="2" height="0.8" fill="#ff90bc"/>
<rect x="586" y="433.3" width="2" height="0.8" fill="#ff90bc"/>
<rect x="586" y="428.5" width="2" height="0.8" fill="#ff90bc"/>
<rect x="586" y="423.7" width="2" height="0.8" fill="#ff90bc"/>
<rect x="586" y="418.9" width="2" height="0.8" fill="#ff90bc"/>
<rect x="586" y="414.1" width="2" height="0.8" fill="#ff90bc"/>
<rect x="586" y="409.3" width="2" height="0.8" fill="#ff90bc"/>
<rect x="586" y="404.5" width="2" height="0.8" fill="#ff90bc"/>
<rect x="586" y="399.7" width="2" height="0.8" fill="#ff90bc"/>
<rect x="586" y="394.9" width="2" height="0.8" fill="#ff90bc"/>
<rect x="586" y="390.1" width="2" height="0.8" fill="#ff90bc"/>
<rect x="586" y="385.3" width="2" height="0.8" fill="#ff90bc"/>
<rect x="586" y="380.5" width="2" height="0.8" fill="#ff90bc"/>
<rect x="586" y="375.7" width="2" height="0.8" fill="#ff90bc"/>
<rect x="586" y="370.9" width="2" height="0.8" fill="#ff90bc"/>
<rect x="586" y="366.1" width="2" height="0.8" fill="#ff90bc"/>
<rect x="586" y="361.3" width="2" height="0.8" fill="#ff90bc"/>
<rect x="586" y="356.5" width="2" height="0.8" fill="#ff90bc"/>
<rect x="586" y="351.7" width="2" height="0.8" fill="#ff90bc"/>
<rect x="586" y="346.9" width="2" height="0.8" fill="#ff90bc"/>
<rect x="586" y="342.1" width="2" height="0.8" fill="#ff90bc"/>
</g>
<rect x="60.4" y="540" width="1.2" height="2.6" fill="#a8a8a8"/>
<rect x="70.8" y="540" width="1.2" height="2.6" fill="#a8a8a8"/>
<rect x="81.2" y="540" width="1.2" height="2.6" fill="#a8a8a8"/>
<rect x="91.6" y="540" width="1.4" height="4.4" fill="#a4a4a4"/>
<text transform="translate(92.3,552.2) scale(0.86,1)" font-size="8.2" fill="#2020ee" text-anchor="middle">02</text>
<rect x="102.1" y="540" width="1.2" height="2.6" fill="#a8a8a8"/>
<rect x="112.5" y="540" width="1.2" height="2.6" fill="#a8a8a8"/>
<rect x="122.9" y="540" width="1.2" height="2.6" fill="#a8a8a8"/>
<rect x="133.2" y="540" width="1.4" height="4.4" fill="#a4a4a4"/>
<text transform="translate(133.9,552.2) scale(0.86,1)" font-size="8.2" fill="#2020ee" text-anchor="middle">04</text>
<rect x="143.7" y="540" width="1.2" height="2.6" fill="#a8a8a8"/>
<rect x="154.2" y="540" width="1.2" height="2.6" fill="#a8a8a8"/>
<rect x="164.6" y="540" width="1.2" height="2.6" fill="#a8a8a8"/>
<rect x="174.9" y="540" width="1.4" height="4.4" fill="#a4a4a4"/>
<text transform="translate(175.6,552.2) scale(0.86,1)" font-size="8.2" fill="#2020ee" text-anchor="middle">06</text>
<rect x="185.4" y="540" width="1.2" height="2.6" fill="#a8a8a8"/>
<rect x="195.8" y="540" width="1.2" height="2.6" fill="#a8a8a8"/>
<rect x="206.2" y="540" width="1.2" height="2.6" fill="#a8a8a8"/>
<rect x="216.5" y="540" width="1.4" height="4.4" fill="#a4a4a4"/>
<text transform="translate(217.2,552.2) scale(0.86,1)" font-size="8.2" fill="#2020ee" text-anchor="middle">08</text>
<rect x="227.1" y="540" width="1.2" height="2.6" fill="#a8a8a8"/>
<rect x="237.5" y="540" width="1.2" height="2.6" fill="#a8a8a8"/>
<rect x="247.9" y="540" width="1.2" height="2.6" fill="#a8a8a8"/>
<rect x="258.2" y="540" width="1.4" height="4.4" fill="#a4a4a4"/>
<text transform="translate(258.9,552.2) scale(0.86,1)" font-size="8.2" fill="#2020ee" text-anchor="middle">10</text>
<rect x="268.7" y="540" width="1.2" height="2.6" fill="#a8a8a8"/>
<rect x="279.1" y="540" width="1.2" height="2.6" fill="#a8a8a8"/>
<rect x="289.5" y="540" width="1.2" height="2.6" fill="#a8a8a8"/>
<rect x="299.9" y="540" width="1.4" height="4.4" fill="#a4a4a4"/>
<text transform="translate(300.6,552.2) scale(0.86,1)" font-size="8.2" fill="#2020ee" text-anchor="middle">12</text>
<rect x="310.4" y="540" width="1.2" height="2.6" fill="#a8a8a8"/>
<rect x="320.8" y="540" width="1.2" height="2.6" fill="#a8a8a8"/>
<rect x="331.2" y="540" width="1.2" height="2.6" fill="#a8a8a8"/>
<rect x="341.5" y="540" width="1.4" height="4.4" fill="#a4a4a4"/>
<text transform="translate(342.2,552.2) scale(0.86,1)" font-size="8.2" fill="#2020ee" text-anchor="middle">14</text>
<rect x="352.0" y="540" width="1.2" height="2.6" fill="#a8a8a8"/>
<rect x="362.4" y="540" width="1.2" height="2.6" fill="#a8a8a8"/>
<rect x="372.9" y="540" width="1.2" height="2.6" fill="#a8a8a8"/>
<rect x="383.2" y="540" width="1.4" height="4.4" fill="#a4a4a4"/>
<text transform="translate(383.9,552.2) scale(0.86,1)" font-size="8.2" fill="#2020ee" text-anchor="middle">16</text>
<rect x="393.7" y="540" width="1.2" height="2.6" fill="#a8a8a8"/>
<rect x="404.1" y="540" width="1.2" height="2.6" fill="#a8a8a8"/>
<rect x="414.5" y="540" width="1.2" height="2.6" fill="#a8a8a8"/>
<rect x="424.8" y="540" width="1.4" height="4.4" fill="#a4a4a4"/>
<text transform="translate(425.5,552.2) scale(0.86,1)" font-size="8.2" fill="#2020ee" text-anchor="middle">18</text>
<rect x="435.4" y="540" width="1.2" height="2.6" fill="#a8a8a8"/>
<rect x="445.8" y="540" width="1.2" height="2.6" fill="#a8a8a8"/>
<rect x="456.2" y="540" width="1.2" height="2.6" fill="#a8a8a8"/>
<rect x="466.5" y="540" width="1.4" height="4.4" fill="#a4a4a4"/>
<text transform="translate(467.2,552.2) scale(0.86,1)" font-size="8.2" fill="#2020ee" text-anchor="middle">20</text>
<rect x="477.0" y="540" width="1.2" height="2.6" fill="#a8a8a8"/>
<rect x="487.4" y="540" width="1.2" height="2.6" fill="#a8a8a8"/>
<rect x="497.8" y="540" width="1.2" height="2.6" fill="#a8a8a8"/>
<rect x="508.2" y="540" width="1.4" height="4.4" fill="#a4a4a4"/>
<text transform="translate(508.9,552.2) scale(0.86,1)" font-size="8.2" fill="#2020ee" text-anchor="middle">22</text>
<rect x="518.7" y="540" width="1.2" height="2.6" fill="#a8a8a8"/>
<rect x="529.1" y="540" width="1.2" height="2.6" fill="#a8a8a8"/>
<rect x="539.5" y="540" width="1.2" height="2.6" fill="#a8a8a8"/>
<rect x="549.8" y="540" width="1.4" height="4.4" fill="#a4a4a4"/>
<text transform="translate(550.5,552.2) scale(0.86,1)" font-size="8.2" fill="#2020ee" text-anchor="middle">00</text>
<text x="56.8" y="337.5" font-size="11.4" fill="#10d810" textLength="40" lengthAdjust="spacingAndGlyphs">Humidity</text>
<text x="126" y="336.5" font-size="11.4" fill="#d0c408" textLength="24" lengthAdjust="spacingAndGlyphs">Solar</text>
<text x="202.5" y="337.5" font-size="11.4" fill="#2020d0" textLength="59.5" lengthAdjust="spacingAndGlyphs">Rainfall (mm)</text>
<text x="285.5" y="337.5" font-size="11.4" fill="#f080c8" textLength="14.5" lengthAdjust="spacingAndGlyphs">UV</text>
<text x="361.5" y="337.5" font-size="11.4" fill="#ff0000" textLength="78.5" lengthAdjust="spacingAndGlyphs">Temperature (°C)</text>
<text x="447.8" y="337.5" font-size="11.4" fill="#f4b89c" textLength="29.7" lengthAdjust="spacingAndGlyphs">Indoor</text>
<text x="504" y="337.5" font-size="11.4" fill="#10f0ff" textLength="68.5" lengthAdjust="spacingAndGlyphs">Dew Point (°C)</text>
</svg></body></html>
